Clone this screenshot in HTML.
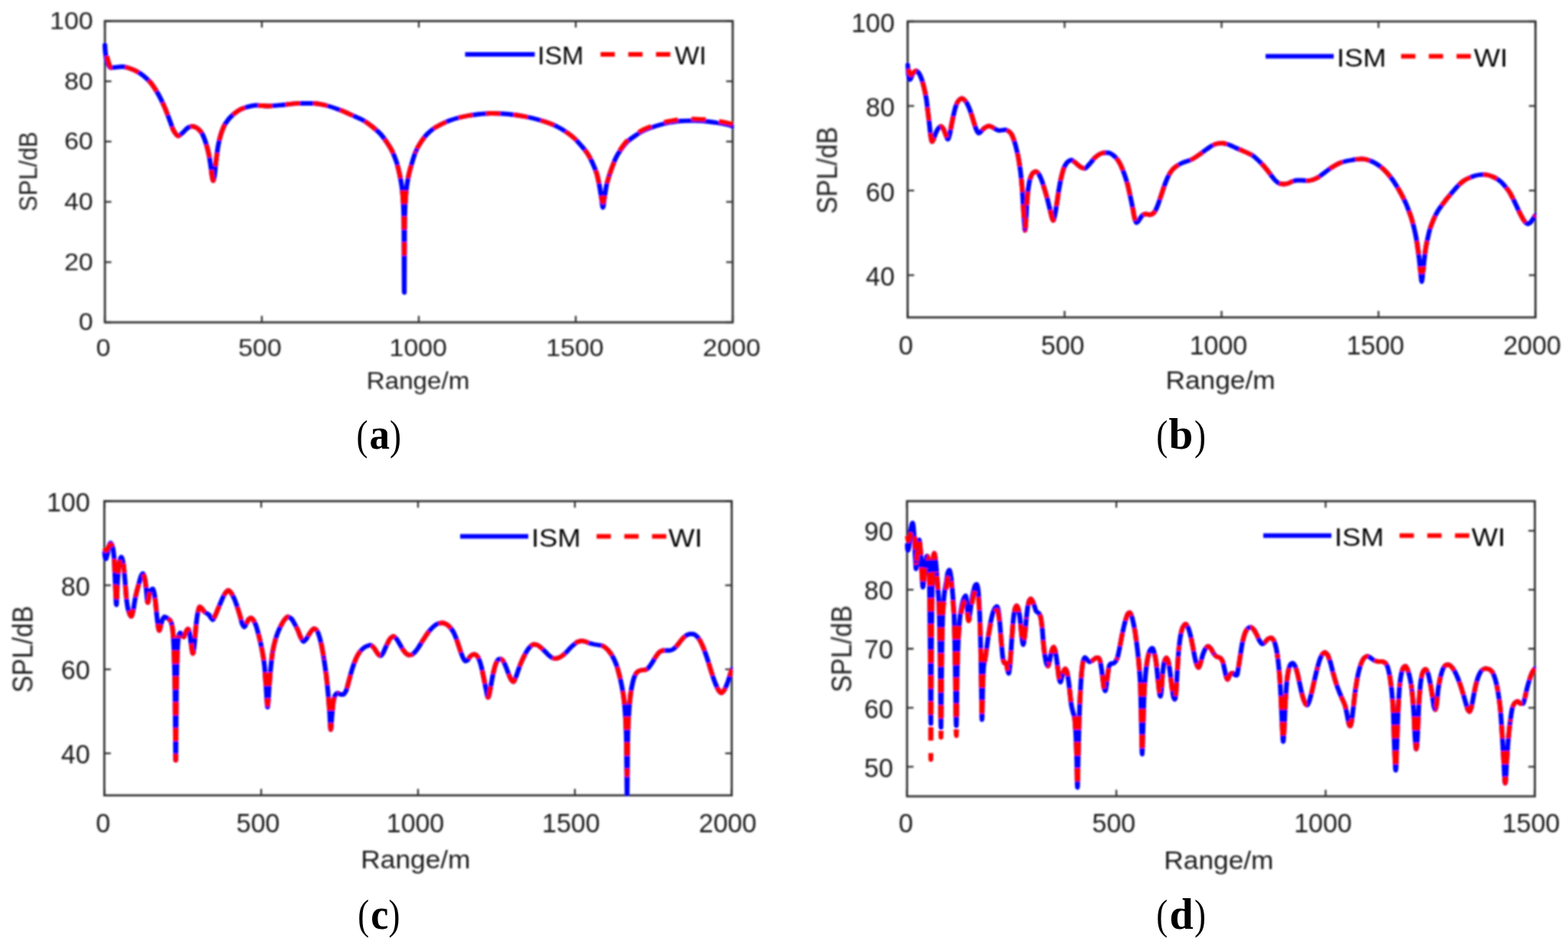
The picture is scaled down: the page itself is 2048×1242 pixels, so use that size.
<!DOCTYPE html>
<html lang="en"><head><meta charset="utf-8"><title>SPL versus range: ISM and WI</title>
<style>html,body{margin:0;padding:0;background:#fff}body{width:2048px;height:1242px;overflow:hidden}svg{display:block}text{font-family:"Liberation Sans",Arial,Helvetica,sans-serif}text.cap{font-family:"Liberation Serif","Times New Roman",Times,serif}</style></head><body>
<svg width="2048" height="1242" viewBox="0 0 2048 1242">
<defs><filter id="bl" x="-5%" y="-5%" width="110%" height="110%" filterUnits="objectBoundingBox"><feGaussianBlur stdDeviation="1.00"/></filter></defs>
<rect width="2048" height="1242" fill="#fff"/>
<g filter="url(#bl)">
<rect x="137.00" y="27.50" width="820.00" height="393.50" fill="none" stroke="#303030" stroke-width="2.70"/>
<path d="M137.00,421.00v-8.50M137.00,27.50v8.50M342.00,421.00v-8.50M342.00,27.50v8.50M547.00,421.00v-8.50M547.00,27.50v8.50M752.00,421.00v-8.50M752.00,27.50v8.50M957.00,421.00v-8.50M957.00,27.50v8.50M137.00,421.00h8.50M957.00,421.00h-8.50M137.00,342.30h8.50M957.00,342.30h-8.50M137.00,263.60h8.50M957.00,263.60h-8.50M137.00,184.90h8.50M957.00,184.90h-8.50M137.00,106.20h8.50M957.00,106.20h-8.50M137.00,27.50h8.50M957.00,27.50h-8.50" stroke="#303030" stroke-width="2.30" fill="none"/>
<text transform="translate(135.00,465.30) scale(1.085,1)" text-anchor="middle" font-size="31.20" fill="#1c1c1c" >0</text>
<text transform="translate(339.50,465.30) scale(1.085,1)" text-anchor="middle" font-size="31.20" fill="#1c1c1c" >500</text>
<text transform="translate(546.20,465.30) scale(1.085,1)" text-anchor="middle" font-size="31.20" fill="#1c1c1c" >1000</text>
<text transform="translate(750.90,465.30) scale(1.085,1)" text-anchor="middle" font-size="31.20" fill="#1c1c1c" >1500</text>
<text transform="translate(955.60,465.30) scale(1.085,1)" text-anchor="middle" font-size="31.20" fill="#1c1c1c" >2000</text>
<text transform="translate(121.60,431.40) scale(1.085,1)" text-anchor="end" font-size="31.20" fill="#1c1c1c" >0</text>
<text transform="translate(121.60,352.70) scale(1.085,1)" text-anchor="end" font-size="31.20" fill="#1c1c1c" >20</text>
<text transform="translate(121.60,274.00) scale(1.085,1)" text-anchor="end" font-size="31.20" fill="#1c1c1c" >40</text>
<text transform="translate(121.60,195.30) scale(1.085,1)" text-anchor="end" font-size="31.20" fill="#1c1c1c" >60</text>
<text transform="translate(121.60,116.60) scale(1.085,1)" text-anchor="end" font-size="31.20" fill="#1c1c1c" >80</text>
<text transform="translate(121.60,37.90) scale(1.085,1)" text-anchor="end" font-size="31.20" fill="#1c1c1c" >100</text>
<text transform="translate(546.00,508.00) scale(1.080,1)" text-anchor="middle" font-size="30.70" fill="#1c1c1c" >Range/m</text>
<text transform="translate(48.50,224.00) rotate(-90) scale(1,1.080)" text-anchor="middle" font-size="30.70" fill="#1c1c1c" >SPL/dB</text>
<clipPath id="ca"><rect x="134.00" y="27.50" width="824.40" height="394.00"/></clipPath>
<g clip-path="url(#ca)" fill="none" stroke-linejoin="round" stroke-linecap="round">
<g transform="scale(1.0750,1)">
<path d="M127.4,59.0C127.6,62.5 127.8,66.1 128.0,68.0C128.4,72.4 128.9,75.0 129.3,77.0C130.1,80.5 130.9,82.9 131.6,84.5C132.6,86.4 133.5,88.5 134.4,88.5C136.1,88.5 137.8,88.2 139.5,88.0C142.6,87.7 145.7,87.0 148.8,87.0C151.9,87.0 155.0,88.4 158.1,89.5C161.2,90.6 164.3,92.1 167.4,94.0C172.1,96.8 176.7,100.8 181.4,106.0C184.5,109.5 187.6,114.5 190.7,120.0C193.8,125.5 196.9,132.4 200.0,140.0C202.2,145.3 204.3,152.0 206.5,158.0C208.1,162.3 209.6,168.3 211.2,171.0C212.9,174.0 214.6,177.5 216.3,177.5C218.6,177.5 220.9,174.0 223.3,172.0C225.1,170.4 227.0,167.3 228.8,166.5C230.5,165.7 232.2,165.0 234.0,165.0C235.7,165.0 237.4,166.0 239.1,167.0C240.9,168.1 242.8,170.2 244.7,173.0C246.2,175.3 247.8,179.5 249.3,184.0C250.5,187.6 251.8,192.2 253.0,198.0C254.0,202.4 254.9,208.5 255.8,215.0C256.4,219.3 257.1,226.6 257.7,230.0C258.1,232.6 258.6,236.0 259.1,236.0C259.5,236.0 260.0,232.7 260.5,230.0C261.1,226.4 261.7,217.4 262.3,212.0C263.3,203.9 264.2,195.2 265.1,190.0C266.4,183.0 267.6,178.0 268.8,174.0C270.4,169.0 271.9,164.8 273.5,162.0C276.6,156.5 279.7,152.8 282.8,150.0C287.0,146.2 291.2,143.0 295.3,141.5C300.8,139.5 306.2,137.5 311.6,137.5C316.3,137.5 320.9,138.5 325.6,138.5C331.8,138.5 338.0,137.6 344.2,137.0C350.4,136.4 356.6,135.0 362.8,135.0C369.0,135.0 375.2,135.0 381.4,135.0C386.0,135.0 390.7,136.4 395.3,137.5C401.6,138.9 407.8,141.5 414.0,144.0C418.6,145.9 423.3,148.3 427.9,150.5C432.6,152.7 437.2,154.7 441.9,157.5C445.6,159.8 449.3,162.8 453.0,166.0C456.1,168.7 459.2,171.4 462.3,175.0C465.1,178.2 467.9,182.5 470.7,187.0C472.6,190.0 474.4,193.0 476.3,197.0C478.1,201.0 480.0,205.8 481.9,212.0C483.1,216.2 484.3,221.7 485.6,228.0C486.5,232.7 487.4,237.2 488.4,245.0C488.8,248.9 489.3,253.7 489.8,262.0C490.1,267.5 490.4,272.4 490.7,290.0C490.9,298.8 491.0,382.0 491.2,382.0C491.3,382.0 491.5,298.8 491.6,290.0C491.9,272.4 492.2,267.5 492.6,262.0C493.0,253.7 493.5,248.9 494.0,245.0C494.9,237.2 495.8,232.6 496.7,228.0C498.0,221.9 499.2,217.5 500.5,213.0C502.0,207.4 503.6,201.8 505.1,198.0C507.1,193.0 509.1,189.3 511.2,186.0C513.8,181.7 516.4,177.9 519.1,175.0C521.9,172.0 524.7,169.5 527.4,167.5C530.5,165.3 533.6,163.7 536.7,162.0C539.8,160.3 542.9,158.7 546.0,157.5C550.1,155.9 554.1,154.6 558.1,153.5C561.9,152.5 565.6,151.7 569.3,151.0C574.0,150.2 578.6,149.4 583.3,149.0C587.9,148.6 592.6,148.0 597.2,148.0C601.9,148.0 606.5,148.2 611.2,148.5C615.8,148.8 620.5,149.4 625.1,150.0C629.8,150.6 634.4,151.5 639.1,152.5C643.7,153.5 648.4,154.7 653.0,156.0C657.1,157.2 661.1,158.5 665.1,160.0C668.8,161.4 672.6,163.1 676.3,165.0C680.0,166.9 683.7,169.3 687.4,172.0C690.7,174.3 694.0,176.9 697.2,180.0C700.2,182.8 703.1,186.4 706.0,190.0C708.5,193.1 711.0,196.0 713.5,200.0C715.7,203.5 717.8,208.0 720.0,213.0C721.7,217.0 723.4,220.9 725.1,227.0C726.2,230.9 727.3,236.9 728.4,243.0C729.1,247.4 729.9,252.8 730.7,258.0C731.3,262.2 731.9,271.0 732.6,271.0C733.2,271.0 733.8,262.2 734.4,258.0C735.2,252.8 736.0,246.9 736.7,243.0C737.8,237.6 738.9,233.8 740.0,230.0C741.4,225.1 742.8,220.9 744.2,217.0C745.7,212.6 747.3,208.2 748.8,205.0C751.0,200.5 753.2,197.2 755.3,194.0C757.7,190.6 760.0,187.4 762.3,185.0C765.6,181.7 768.8,179.3 772.1,177.0C775.8,174.3 779.5,171.8 783.3,170.0C787.9,167.7 792.6,166.0 797.2,164.5C802.6,162.7 808.1,161.0 813.5,160.0C818.3,159.1 823.1,158.2 827.9,158.0C833.2,157.7 838.4,157.5 843.7,157.5C848.4,157.5 853.0,158.1 857.7,158.5C862.3,158.9 867.0,159.7 871.6,160.5C875.0,161.1 878.4,161.7 881.9,162.5C884.7,163.2 887.4,164.0 890.2,165.0" stroke="#0000ff" stroke-width="5.80"/>
<path d="M129.8,73.0C130.2,75.2 130.7,77.3 131.2,79.0C131.8,81.3 132.4,83.7 133.0,85.0C133.8,86.6 134.6,88.5 135.3,88.5C136.7,88.5 138.1,88.2 139.5,88.0C142.6,87.6 145.7,87.0 148.8,87.0C151.9,87.0 155.0,88.4 158.1,89.5C161.2,90.6 164.3,92.1 167.4,94.0C172.1,96.8 176.7,100.8 181.4,106.0C184.5,109.5 187.6,114.5 190.7,120.0C193.8,125.5 196.9,132.4 200.0,140.0C202.2,145.3 204.3,152.0 206.5,158.0C208.1,162.3 209.6,168.3 211.2,171.0C212.9,174.0 214.6,177.5 216.3,177.5C218.6,177.5 220.9,174.0 223.3,172.0C225.1,170.4 227.0,167.3 228.8,166.5C230.5,165.7 232.2,165.0 234.0,165.0C235.7,165.0 237.4,166.0 239.1,167.0C240.9,168.1 242.8,170.2 244.7,173.0C246.2,175.3 247.8,179.5 249.3,184.0C250.5,187.6 251.8,192.2 253.0,198.0C254.0,202.4 254.9,208.5 255.8,215.0C256.4,219.3 257.1,226.6 257.7,230.0C258.1,232.6 258.6,236.0 259.1,236.0C259.5,236.0 260.0,232.7 260.5,230.0C261.1,226.4 261.7,217.4 262.3,212.0C263.3,203.9 264.2,195.2 265.1,190.0C266.4,183.0 267.6,178.0 268.8,174.0" stroke="#ff0000" stroke-width="5.80" stroke-dasharray="17.40 16.28" stroke-dashoffset="0.00" stroke-linecap="butt"/>
<path d="M268.8,174.0C270.4,169.0 271.9,164.8 273.5,162.0C276.6,156.5 279.7,152.8 282.8,150.0C287.0,146.2 291.2,143.0 295.3,141.5C300.8,139.5 306.2,137.5 311.6,137.5C316.3,137.5 320.9,138.5 325.6,138.5C331.8,138.5 338.0,137.6 344.2,137.0C350.4,136.4 356.6,135.0 362.8,135.0C369.0,135.0 375.2,135.0 381.4,135.0C386.0,135.0 390.7,136.4 395.3,137.5C401.6,138.9 407.8,141.5 414.0,144.0C418.6,145.9 423.3,148.3 427.9,150.5C432.6,152.7 437.2,154.7 441.9,157.5C445.6,159.8 449.3,162.8 453.0,166.0C456.1,168.7 459.2,171.4 462.3,175.0C465.1,178.2 467.9,182.5 470.7,187.0" stroke="#ff0000" stroke-width="5.80" stroke-dasharray="17.40 16.28" stroke-dashoffset="5.29" stroke-linecap="butt"/>
<path d="M470.7,187.0C472.6,190.0 474.4,193.0 476.3,197.0C478.1,201.0 480.0,205.8 481.9,212.0C483.1,216.2 484.3,221.7 485.6,228.0C486.5,232.7 487.4,237.2 488.4,245.0C488.8,248.9 489.3,253.7 489.8,262.0C490.1,267.5 490.4,274.3 490.7,290.0C490.9,297.8 491.0,341.8 491.2,341.8C491.3,341.8 491.5,297.8 491.6,290.0C491.9,274.3 492.2,267.5 492.6,262.0C493.0,253.7 493.5,248.9 494.0,245.0C494.9,237.2 495.8,232.6 496.7,228.0C498.0,221.9 499.2,217.5 500.5,213.0C502.0,207.4 503.6,201.8 505.1,198.0" stroke="#ff0000" stroke-width="5.80" stroke-dasharray="17.40 16.28" stroke-dashoffset="2.26" stroke-linecap="butt"/>
<path d="M505.1,198.0C507.1,193.0 509.1,189.3 511.2,186.0C513.8,181.7 516.4,177.9 519.1,175.0C521.9,172.0 524.7,169.5 527.4,167.5C530.5,165.3 533.6,163.7 536.7,162.0C539.8,160.3 542.9,158.7 546.0,157.5C550.1,155.9 554.1,154.6 558.1,153.5C561.9,152.5 565.6,151.7 569.3,151.0C574.0,150.2 578.6,149.4 583.3,149.0C587.9,148.6 592.6,148.0 597.2,148.0C601.9,148.0 606.5,148.2 611.2,148.5C615.8,148.8 620.5,149.4 625.1,150.0C629.8,150.6 634.4,151.5 639.1,152.5C643.7,153.5 648.4,154.7 653.0,156.0C657.1,157.2 661.1,158.5 665.1,160.0C668.8,161.4 672.6,163.1 676.3,165.0C680.0,166.9 683.7,169.3 687.4,172.0C690.7,174.3 694.0,176.9 697.2,180.0C700.2,182.8 703.1,186.4 706.0,190.0C708.5,193.1 711.0,196.0 713.5,200.0" stroke="#ff0000" stroke-width="5.80" stroke-dasharray="17.40 16.28" stroke-dashoffset="29.82" stroke-linecap="butt"/>
<path d="M713.5,200.0C715.7,203.5 717.8,208.0 720.0,213.0C721.7,217.0 723.4,220.9 725.1,227.0C726.2,230.9 727.3,236.9 728.4,243.0C729.1,247.4 729.9,254.7 730.7,258.0C731.3,260.6 731.9,264.0 732.6,264.0C733.2,264.0 733.8,260.6 734.4,258.0C735.2,254.7 736.0,246.9 736.7,243.0C737.8,237.6 738.9,233.8 740.0,230.0" stroke="#ff0000" stroke-width="5.80" stroke-dasharray="17.40 16.28" stroke-dashoffset="8.68" stroke-linecap="butt"/>
<path d="M740.0,230.0C741.4,225.1 742.8,220.9 744.2,217.0C745.7,212.6 747.3,208.4 748.8,205.0C751.0,200.2 753.2,196.2 755.3,192.8C757.7,189.2 760.0,186.0 762.3,183.6C765.6,180.2 768.8,177.9 772.1,175.5C775.8,172.8 779.5,170.2 783.3,168.4C787.9,166.1 792.6,164.3 797.2,162.8C802.6,161.0 808.1,159.3 813.5,158.2C818.3,157.3 823.1,156.3 827.9,156.0C833.2,155.6 838.4,155.3 843.7,155.3C848.4,155.3 853.0,155.8 857.7,156.2C862.3,156.6 867.0,157.3 871.6,158.0C875.0,158.5 878.4,159.2 881.9,160.0C884.7,160.6 887.4,161.4 890.2,162.3" stroke="#ff0000" stroke-width="5.80" stroke-dasharray="17.40 16.28" stroke-dashoffset="31.83" stroke-linecap="butt"/>
</g>
</g>
<path d="M607.50,71.00H698.50" stroke="#0000ff" stroke-width="5.80" fill="none"/>
<path d="M784.40,71.00H875.60" stroke="#ff0000" stroke-width="5.80" stroke-dasharray="18.7 17.5" fill="none"/>
<text transform="translate(702.00,84.40) scale(1.030,1)" text-anchor="start" font-size="33.00" fill="#000" >ISM</text>
<text transform="translate(881.30,84.40) scale(1.030,1)" text-anchor="start" font-size="33.00" fill="#000" >WI</text>
</g>
<g filter="url(#bl)">
<rect x="1185.50" y="28.00" width="820.00" height="386.50" fill="none" stroke="#303030" stroke-width="2.70"/>
<path d="M1185.50,414.50v-8.50M1185.50,28.00v8.50M1390.50,414.50v-8.50M1390.50,28.00v8.50M1595.50,414.50v-8.50M1595.50,28.00v8.50M1800.50,414.50v-8.50M1800.50,28.00v8.50M2005.50,414.50v-8.50M2005.50,28.00v8.50M1185.50,359.29h8.50M2005.50,359.29h-8.50M1185.50,248.86h8.50M2005.50,248.86h-8.50M1185.50,138.43h8.50M2005.50,138.43h-8.50M1185.50,28.00h8.50M2005.50,28.00h-8.50" stroke="#303030" stroke-width="2.30" fill="none"/>
<text transform="translate(1183.10,463.20) scale(0.975,1)" text-anchor="middle" font-size="34.80" fill="#1c1c1c" >0</text>
<text transform="translate(1388.10,463.20) scale(0.975,1)" text-anchor="middle" font-size="34.80" fill="#1c1c1c" >500</text>
<text transform="translate(1591.40,463.20) scale(0.975,1)" text-anchor="middle" font-size="34.80" fill="#1c1c1c" >1000</text>
<text transform="translate(1796.40,463.20) scale(0.975,1)" text-anchor="middle" font-size="34.80" fill="#1c1c1c" >1500</text>
<text transform="translate(2001.20,463.20) scale(0.975,1)" text-anchor="middle" font-size="34.80" fill="#1c1c1c" >2000</text>
<text transform="translate(1168.50,373.09) scale(0.975,1)" text-anchor="end" font-size="34.80" fill="#1c1c1c" >40</text>
<text transform="translate(1168.50,262.66) scale(0.975,1)" text-anchor="end" font-size="34.80" fill="#1c1c1c" >60</text>
<text transform="translate(1168.50,152.23) scale(0.975,1)" text-anchor="end" font-size="34.80" fill="#1c1c1c" >80</text>
<text transform="translate(1168.50,41.80) scale(0.975,1)" text-anchor="end" font-size="34.80" fill="#1c1c1c" >100</text>
<text transform="translate(1594.10,507.50) scale(1.045,1)" text-anchor="middle" font-size="33.80" fill="#1c1c1c" >Range/m</text>
<text transform="translate(1093.30,222.50) rotate(-90) scale(1,1.130)" text-anchor="middle" font-size="33.50" fill="#1c1c1c" >SPL/dB</text>
<clipPath id="cb"><rect x="1182.50" y="28.00" width="824.40" height="387.00"/></clipPath>
<g clip-path="url(#cb)" fill="none" stroke-linejoin="round" stroke-linecap="round">
<g transform="scale(1.0750,1)">
<path d="M1102.8,85.0C1103.1,89.9 1103.4,95.1 1103.7,97.0C1104.3,100.8 1105.0,104.0 1105.6,104.0C1106.7,104.0 1107.8,98.6 1108.8,97.0C1110.2,95.0 1111.6,92.5 1113.0,92.5C1114.3,92.5 1115.5,94.3 1116.7,96.0C1117.8,97.5 1118.9,100.7 1120.0,104.0C1120.9,106.8 1121.9,110.8 1122.8,115.0C1123.7,119.2 1124.7,123.8 1125.6,130.0C1126.2,134.2 1126.8,140.5 1127.4,146.0C1128.1,151.5 1128.7,157.1 1129.3,163.0C1129.8,167.5 1130.2,174.1 1130.7,177.0C1131.3,180.8 1131.9,185.0 1132.6,185.0C1133.3,185.0 1134.1,181.9 1134.9,180.0C1135.8,177.7 1136.7,174.1 1137.7,172.0C1138.6,169.9 1139.5,168.0 1140.5,167.0C1141.4,166.0 1142.3,165.0 1143.3,165.0C1144.2,165.0 1145.1,166.6 1146.0,168.0C1147.0,169.4 1147.9,172.7 1148.8,175.0C1149.8,177.3 1150.7,182.0 1151.6,182.0C1152.4,182.0 1153.2,178.0 1154.0,175.0C1154.7,172.0 1155.5,166.2 1156.3,162.0C1157.1,157.8 1157.8,153.6 1158.6,150.0C1159.4,146.4 1160.2,142.5 1160.9,140.0C1162.0,136.6 1163.1,133.3 1164.2,132.0C1165.7,130.2 1167.3,128.5 1168.8,128.5C1170.2,128.5 1171.6,130.4 1173.0,132.0C1174.3,133.4 1175.5,136.1 1176.7,139.0C1178.0,141.9 1179.2,146.0 1180.5,150.0C1181.7,154.0 1182.9,159.1 1184.2,163.0C1185.1,165.9 1186.0,169.4 1187.0,171.0C1187.8,172.4 1188.5,174.0 1189.3,174.0C1190.4,174.0 1191.5,172.1 1192.6,171.0C1193.8,169.8 1195.0,167.9 1196.3,167.0C1198.0,165.8 1199.7,164.5 1201.4,164.5C1202.8,164.5 1204.2,165.3 1205.6,166.0C1206.8,166.6 1208.1,167.8 1209.3,168.5C1210.9,169.3 1212.4,170.5 1214.0,170.5C1215.2,170.5 1216.4,170.2 1217.7,170.0C1218.9,169.8 1220.2,169.5 1221.4,169.5C1222.6,169.5 1223.9,170.3 1225.1,171.0C1226.4,171.7 1227.6,173.1 1228.8,175.0C1230.1,176.9 1231.3,181.0 1232.6,185.0C1233.5,188.0 1234.4,191.8 1235.3,196.0C1236.1,199.5 1236.9,203.3 1237.7,208.0C1238.4,212.7 1239.2,218.2 1240.0,225.0C1240.6,230.4 1241.2,236.6 1241.9,245.0C1242.3,251.3 1242.8,262.2 1243.3,270.0C1243.7,277.8 1244.2,285.7 1244.7,292.0C1244.9,295.4 1245.1,301.0 1245.4,301.0C1245.8,301.0 1246.1,293.3 1246.5,288.0C1247.0,281.4 1247.4,268.2 1247.9,262.0C1248.5,253.7 1249.1,247.1 1249.8,243.0C1250.5,237.9 1251.3,234.2 1252.1,232.0C1253.2,228.9 1254.3,226.3 1255.3,225.5C1256.4,224.7 1257.5,224.0 1258.6,224.0C1259.7,224.0 1260.8,225.6 1261.9,227.0C1262.9,228.4 1264.0,231.2 1265.1,234.0C1266.4,237.2 1267.6,241.7 1268.8,246.0C1270.1,250.3 1271.3,255.0 1272.6,260.0C1273.6,264.4 1274.7,269.3 1275.8,274.0C1276.6,277.3 1277.4,281.4 1278.1,284.0C1278.6,285.6 1279.1,288.0 1279.5,288.0C1280.2,288.0 1280.8,284.6 1281.4,282.0C1282.2,278.8 1282.9,273.1 1283.7,268.0C1284.7,261.9 1285.6,253.8 1286.5,248.0C1287.6,241.2 1288.7,234.7 1289.8,230.0C1290.9,225.3 1291.9,221.0 1293.0,218.5C1294.4,215.3 1295.8,212.7 1297.2,211.5C1298.6,210.3 1300.0,209.0 1301.4,209.0C1302.8,209.0 1304.2,210.5 1305.6,211.5C1307.0,212.5 1308.4,214.3 1309.8,215.5C1311.3,216.8 1312.9,218.4 1314.4,219.0C1315.7,219.5 1316.9,220.0 1318.1,220.0C1319.4,220.0 1320.6,217.8 1321.9,216.5C1323.1,215.2 1324.3,213.5 1325.6,212.0C1327.1,210.1 1328.7,207.5 1330.2,206.0C1332.1,204.1 1334.0,202.4 1335.8,201.5C1337.7,200.6 1339.5,199.5 1341.4,199.5C1343.1,199.5 1344.8,199.5 1346.5,199.5C1348.2,199.5 1349.9,200.9 1351.6,202.0C1353.2,203.0 1354.7,204.6 1356.3,206.5C1357.8,208.4 1359.4,210.9 1360.9,214.0C1362.5,217.1 1364.0,221.5 1365.6,226.0C1367.0,230.1 1368.4,234.6 1369.8,240.0C1370.9,244.2 1371.9,249.7 1373.0,255.0C1374.1,260.3 1375.2,266.1 1376.3,272.0C1377.1,276.2 1377.8,282.3 1378.6,285.0C1379.4,287.7 1380.2,291.0 1380.9,291.0C1381.7,291.0 1382.5,289.5 1383.3,288.5C1384.2,287.3 1385.1,285.3 1386.0,284.0C1387.0,282.7 1387.9,280.9 1388.8,280.5C1390.1,279.9 1391.3,279.5 1392.6,279.5C1394.0,279.5 1395.3,280.5 1396.7,280.5C1397.8,280.5 1398.9,280.0 1400.0,279.5C1401.1,279.0 1402.2,277.6 1403.3,276.0C1404.3,274.4 1405.4,271.4 1406.5,268.5C1407.8,265.2 1409.0,260.9 1410.2,257.0C1411.8,252.1 1413.3,246.4 1414.9,242.0C1416.4,237.6 1418.0,233.2 1419.5,230.0C1421.1,226.8 1422.6,223.9 1424.2,222.0C1425.7,220.1 1427.3,218.7 1428.8,217.5C1431.2,215.7 1433.5,214.1 1435.8,213.0C1437.5,212.2 1439.2,211.7 1440.9,211.0C1443.1,210.2 1445.3,209.5 1447.4,208.5C1449.3,207.6 1451.2,206.3 1453.0,205.0C1455.0,203.6 1457.1,202.0 1459.1,200.5C1461.4,198.7 1463.7,196.7 1466.0,195.0C1468.4,193.3 1470.7,191.2 1473.0,190.0C1475.0,188.9 1477.1,187.8 1479.1,187.5C1480.9,187.2 1482.8,187.0 1484.7,187.0C1486.5,187.0 1488.4,187.5 1490.2,188.0C1492.2,188.5 1494.3,189.6 1496.3,190.5C1498.3,191.4 1500.3,192.6 1502.3,193.5C1504.2,194.4 1506.0,195.2 1507.9,196.0C1510.1,197.0 1512.2,197.9 1514.4,199.0C1516.9,200.2 1519.4,201.3 1521.9,203.0C1523.7,204.3 1525.6,206.2 1527.4,208.0C1529.5,210.0 1531.5,212.2 1533.5,214.5C1535.5,216.8 1537.5,219.3 1539.5,222.0C1541.4,224.5 1543.3,227.5 1545.1,230.0C1546.7,232.1 1548.2,234.5 1549.8,236.0C1551.3,237.5 1552.9,239.0 1554.4,239.5C1556.3,240.0 1558.1,240.5 1560.0,240.5C1561.6,240.5 1563.1,239.9 1564.7,239.5C1566.5,239.0 1568.4,237.6 1570.2,237.0C1572.1,236.4 1574.0,235.5 1575.8,235.5C1577.7,235.5 1579.5,235.5 1581.4,235.5C1583.9,235.5 1586.4,236.0 1588.8,236.0C1590.7,236.0 1592.6,235.5 1594.4,235.0C1596.6,234.4 1598.8,233.2 1600.9,232.0C1603.1,230.8 1605.3,228.7 1607.4,227.0C1609.9,225.0 1612.4,222.8 1614.9,221.0C1617.1,219.4 1619.2,217.8 1621.4,216.5C1623.9,215.0 1626.4,213.5 1628.8,212.5C1631.0,211.7 1633.2,211.0 1635.3,210.5C1637.8,209.9 1640.3,209.5 1642.8,209.0C1644.7,208.6 1646.5,208.2 1648.4,208.0C1650.4,207.8 1652.4,207.5 1654.4,207.5C1656.4,207.5 1658.4,208.0 1660.5,208.5C1662.3,208.9 1664.2,209.7 1666.0,210.5C1667.9,211.3 1669.8,212.3 1671.6,213.5C1673.6,214.8 1675.7,216.3 1677.7,218.0C1679.7,219.7 1681.7,221.8 1683.7,224.0C1685.6,226.1 1687.4,228.4 1689.3,231.0C1690.9,233.1 1692.4,235.5 1694.0,238.0C1695.5,240.5 1697.1,243.2 1698.6,246.0C1700.2,248.8 1701.7,251.8 1703.3,255.0C1704.8,258.2 1706.4,261.3 1707.9,265.0C1709.1,268.0 1710.4,271.4 1711.6,275.0C1712.7,278.1 1713.8,281.2 1714.9,285.0C1715.8,288.2 1716.7,292.0 1717.7,296.0C1718.4,299.3 1719.2,302.8 1720.0,307.0C1720.8,311.2 1721.6,316.4 1722.3,322.0C1722.9,326.5 1723.6,331.5 1724.2,337.0C1724.8,342.5 1725.4,349.1 1726.0,355.0C1726.5,359.4 1727.0,368.0 1727.4,368.0C1727.9,368.0 1728.4,359.4 1728.8,355.0C1729.5,349.1 1730.1,342.5 1730.7,337.0C1731.3,331.5 1731.9,325.9 1732.6,322.0C1733.3,317.1 1734.1,313.6 1734.9,310.0C1735.8,305.6 1736.7,301.2 1737.7,298.0C1738.6,294.8 1739.5,292.5 1740.5,290.0C1741.7,286.7 1742.9,283.6 1744.2,281.0C1745.4,278.4 1746.7,276.1 1747.9,274.0C1749.5,271.4 1751.0,269.2 1752.6,267.0C1754.1,264.8 1755.7,262.6 1757.2,260.5C1758.8,258.4 1760.3,256.5 1761.9,254.5C1763.7,252.1 1765.6,249.7 1767.4,247.5C1769.3,245.3 1771.2,242.9 1773.0,241.0C1774.9,239.1 1776.7,237.3 1778.6,236.0C1780.6,234.6 1782.6,233.5 1784.7,232.5C1786.7,231.5 1788.7,230.7 1790.7,230.0C1792.6,229.4 1794.4,228.8 1796.3,228.5C1798.1,228.2 1800.0,228.0 1801.9,228.0C1803.7,228.0 1805.6,228.2 1807.4,228.5C1809.3,228.8 1811.2,229.7 1813.0,230.5C1814.9,231.3 1816.7,232.3 1818.6,233.5C1820.5,234.7 1822.3,236.2 1824.2,238.0C1825.7,239.5 1827.3,241.5 1828.8,243.5C1830.4,245.5 1831.9,247.5 1833.5,250.0C1835.0,252.5 1836.6,255.8 1838.1,259.0C1839.7,262.2 1841.2,266.0 1842.8,269.5C1844.0,272.3 1845.3,275.3 1846.5,278.0C1847.8,280.7 1849.0,283.3 1850.2,285.5C1851.3,287.4 1852.4,289.4 1853.5,290.5C1854.4,291.4 1855.3,292.5 1856.3,292.5C1857.2,292.5 1858.1,291.7 1859.1,291.0C1860.0,290.3 1860.9,288.5 1861.9,287.0C1862.6,285.8 1863.4,284.2 1864.2,283.0C1864.7,282.3 1865.1,281.6 1865.6,281.0" stroke="#0000ff" stroke-width="5.80"/>
<path d="M1103.7,90.0C1104.2,92.7 1104.7,95.3 1105.1,96.0C1105.7,96.9 1106.4,97.5 1107.0,97.5C1107.8,97.5 1108.5,95.7 1109.3,95.0C1110.5,94.0 1111.8,92.5 1113.0,92.5C1114.3,92.5 1115.5,94.3 1116.7,96.0C1117.8,97.5 1118.9,100.7 1120.0,104.0C1120.9,106.8 1121.9,110.8 1122.8,115.0C1123.7,119.2 1124.7,123.8 1125.6,130.0C1126.2,134.2 1126.8,140.5 1127.4,146.0C1128.1,151.5 1128.7,157.1 1129.3,163.0C1129.8,167.5 1130.2,174.1 1130.7,177.0C1131.3,180.8 1131.9,185.0 1132.6,185.0C1133.3,185.0 1134.1,181.9 1134.9,180.0C1135.8,177.7 1136.7,174.1 1137.7,172.0C1138.6,169.9 1139.5,168.0 1140.5,167.0C1141.4,166.0 1142.3,165.0 1143.3,165.0C1144.2,165.0 1145.1,166.6 1146.0,168.0C1147.0,169.4 1147.9,172.7 1148.8,175.0C1149.8,177.3 1150.7,182.0 1151.6,182.0C1152.4,182.0 1153.2,178.0 1154.0,175.0C1154.7,172.0 1155.5,166.2 1156.3,162.0C1157.1,157.8 1157.8,153.6 1158.6,150.0C1159.4,146.4 1160.2,142.5 1160.9,140.0C1162.0,136.6 1163.1,133.3 1164.2,132.0C1165.7,130.2 1167.3,128.5 1168.8,128.5C1170.2,128.5 1171.6,130.4 1173.0,132.0C1174.3,133.4 1175.5,136.1 1176.7,139.0C1178.0,141.9 1179.2,146.0 1180.5,150.0C1181.7,154.0 1182.9,159.1 1184.2,163.0C1185.1,165.9 1186.0,169.4 1187.0,171.0C1187.8,172.4 1188.5,174.0 1189.3,174.0C1190.4,174.0 1191.5,172.1 1192.6,171.0C1193.8,169.8 1195.0,167.9 1196.3,167.0C1198.0,165.8 1199.7,164.5 1201.4,164.5C1202.8,164.5 1204.2,165.3 1205.6,166.0C1206.8,166.6 1208.1,167.8 1209.3,168.5C1210.9,169.3 1212.4,170.5 1214.0,170.5C1215.2,170.5 1216.4,170.2 1217.7,170.0C1218.9,169.8 1220.2,169.5 1221.4,169.5C1222.6,169.5 1223.9,170.3 1225.1,171.0C1226.4,171.7 1227.6,173.1 1228.8,175.0C1230.1,176.9 1231.3,181.0 1232.6,185.0C1233.5,188.0 1234.4,191.8 1235.3,196.0C1236.1,199.5 1236.9,203.3 1237.7,208.0C1238.4,212.7 1239.2,218.2 1240.0,225.0C1240.6,230.4 1241.2,236.6 1241.9,245.0C1242.3,251.3 1242.8,262.2 1243.3,270.0C1243.7,277.8 1244.2,285.7 1244.7,292.0C1244.9,295.4 1245.1,301.0 1245.4,301.0C1245.8,301.0 1246.1,293.3 1246.5,288.0C1247.0,281.4 1247.4,268.2 1247.9,262.0C1248.5,253.7 1249.1,247.1 1249.8,243.0C1250.5,237.9 1251.3,234.2 1252.1,232.0C1253.2,228.9 1254.3,226.3 1255.3,225.5C1256.4,224.7 1257.5,224.0 1258.6,224.0C1259.7,224.0 1260.8,225.6 1261.9,227.0C1262.9,228.4 1264.0,231.2 1265.1,234.0C1266.4,237.2 1267.6,241.7 1268.8,246.0C1270.1,250.3 1271.3,255.0 1272.6,260.0C1273.6,264.4 1274.7,269.3 1275.8,274.0C1276.6,277.3 1277.4,281.4 1278.1,284.0C1278.6,285.6 1279.1,288.0 1279.5,288.0C1280.2,288.0 1280.8,284.6 1281.4,282.0C1282.2,278.8 1282.9,273.1 1283.7,268.0C1284.7,261.9 1285.6,253.8 1286.5,248.0C1287.6,241.2 1288.7,234.7 1289.8,230.0C1290.9,225.3 1291.9,221.0 1293.0,218.5C1294.4,215.3 1295.8,212.7 1297.2,211.5C1298.6,210.3 1300.0,209.0 1301.4,209.0C1302.8,209.0 1304.2,210.5 1305.6,211.5C1307.0,212.5 1308.4,214.3 1309.8,215.5C1311.3,216.8 1312.9,218.4 1314.4,219.0C1315.7,219.5 1316.9,220.0 1318.1,220.0C1319.4,220.0 1320.6,217.8 1321.9,216.5C1323.1,215.2 1324.3,213.5 1325.6,212.0C1327.1,210.1 1328.7,207.5 1330.2,206.0C1332.1,204.1 1334.0,202.4 1335.8,201.5C1337.7,200.6 1339.5,199.5 1341.4,199.5C1343.1,199.5 1344.8,199.5 1346.5,199.5C1348.2,199.5 1349.9,200.9 1351.6,202.0C1353.2,203.0 1354.7,204.6 1356.3,206.5C1357.8,208.4 1359.4,210.9 1360.9,214.0C1362.5,217.1 1364.0,221.5 1365.6,226.0C1367.0,230.1 1368.4,234.6 1369.8,240.0C1370.9,244.2 1371.9,249.7 1373.0,255.0C1374.1,260.3 1375.2,266.1 1376.3,272.0C1377.1,276.2 1377.8,282.3 1378.6,285.0C1379.4,287.7 1380.2,291.0 1380.9,291.0C1381.7,291.0 1382.5,289.5 1383.3,288.5C1384.2,287.3 1385.1,285.3 1386.0,284.0C1387.0,282.7 1387.9,280.9 1388.8,280.5C1390.1,279.9 1391.3,279.5 1392.6,279.5C1394.0,279.5 1395.3,280.5 1396.7,280.5C1397.8,280.5 1398.9,280.0 1400.0,279.5C1401.1,279.0 1402.2,277.6 1403.3,276.0C1404.3,274.4 1405.4,271.4 1406.5,268.5C1407.8,265.2 1409.0,260.9 1410.2,257.0C1411.8,252.1 1413.3,246.4 1414.9,242.0C1416.4,237.6 1418.0,233.2 1419.5,230.0C1421.1,226.8 1422.6,223.9 1424.2,222.0C1425.7,220.1 1427.3,218.7 1428.8,217.5C1431.2,215.7 1433.5,214.1 1435.8,213.0C1437.5,212.2 1439.2,211.7 1440.9,211.0C1443.1,210.2 1445.3,209.5 1447.4,208.5C1449.3,207.6 1451.2,206.3 1453.0,205.0C1455.0,203.6 1457.1,202.0 1459.1,200.5C1461.4,198.7 1463.7,196.7 1466.0,195.0C1468.4,193.3 1470.7,191.2 1473.0,190.0C1475.0,188.9 1477.1,187.8 1479.1,187.5C1480.9,187.2 1482.8,187.0 1484.7,187.0C1486.5,187.0 1488.4,187.5 1490.2,188.0C1492.2,188.5 1494.3,189.6 1496.3,190.5C1498.3,191.4 1500.3,192.6 1502.3,193.5C1504.2,194.4 1506.0,195.2 1507.9,196.0C1510.1,197.0 1512.2,197.9 1514.4,199.0C1516.9,200.2 1519.4,201.3 1521.9,203.0C1523.7,204.3 1525.6,206.2 1527.4,208.0C1529.5,210.0 1531.5,212.2 1533.5,214.5C1535.5,216.8 1537.5,219.3 1539.5,222.0C1541.4,224.5 1543.3,227.5 1545.1,230.0C1546.7,232.1 1548.2,234.5 1549.8,236.0C1551.3,237.5 1552.9,239.0 1554.4,239.5C1556.3,240.0 1558.1,240.5 1560.0,240.5C1561.6,240.5 1563.1,239.9 1564.7,239.5C1566.5,239.0 1568.4,237.6 1570.2,237.0C1572.1,236.4 1574.0,235.5 1575.8,235.5C1577.7,235.5 1579.5,235.5 1581.4,235.5C1583.9,235.5 1586.4,236.0 1588.8,236.0C1590.7,236.0 1592.6,235.5 1594.4,235.0C1596.6,234.4 1598.8,233.2 1600.9,232.0C1603.1,230.8 1605.3,228.7 1607.4,227.0C1609.9,225.0 1612.4,222.8 1614.9,221.0C1617.1,219.4 1619.2,217.8 1621.4,216.5C1623.9,215.0 1626.4,213.5 1628.8,212.5C1631.0,211.7 1633.2,211.0 1635.3,210.5C1637.8,209.9 1640.3,209.5 1642.8,209.0C1644.7,208.6 1646.5,208.2 1648.4,208.0C1650.4,207.8 1652.4,207.5 1654.4,207.5C1656.4,207.5 1658.4,208.0 1660.5,208.5C1662.3,208.9 1664.2,209.7 1666.0,210.5C1667.9,211.3 1669.8,212.3 1671.6,213.5C1673.6,214.8 1675.7,216.3 1677.7,218.0C1679.7,219.7 1681.7,221.8 1683.7,224.0C1685.6,226.1 1687.4,228.4 1689.3,231.0C1690.9,233.1 1692.4,235.5 1694.0,238.0C1695.5,240.5 1697.1,243.2 1698.6,246.0C1700.2,248.8 1701.7,251.8 1703.3,255.0C1704.8,258.2 1706.4,261.3 1707.9,265.0C1709.1,268.0 1710.4,271.4 1711.6,275.0C1712.7,278.1 1713.8,281.2 1714.9,285.0C1715.8,288.2 1716.7,292.0 1717.7,296.0C1718.4,299.3 1719.2,302.8 1720.0,307.0" stroke="#ff0000" stroke-width="5.80" stroke-dasharray="17.40 16.28" stroke-dashoffset="0.00" stroke-linecap="butt"/>
<path d="M1720.0,307.0C1720.8,311.2 1721.6,316.4 1722.3,322.0C1722.9,326.5 1723.6,331.5 1724.2,337.0C1724.8,342.5 1725.4,355.0 1726.0,355.0C1726.5,355.0 1727.0,354.0 1727.4,354.0C1727.9,354.0 1728.4,355.0 1728.8,355.0C1729.5,355.0 1730.1,342.5 1730.7,337.0C1731.3,331.5 1731.9,325.9 1732.6,322.0C1733.3,317.1 1734.1,313.6 1734.9,310.0C1735.8,305.6 1736.7,301.2 1737.7,298.0" stroke="#ff0000" stroke-width="5.80" stroke-dasharray="17.40 16.28" stroke-dashoffset="25.84" stroke-linecap="butt"/>
<path d="M1737.7,298.0C1738.6,294.8 1739.5,292.5 1740.5,290.0C1741.7,286.7 1742.9,283.6 1744.2,281.0C1745.4,278.4 1746.7,276.1 1747.9,274.0C1749.5,271.4 1751.0,269.2 1752.6,267.0C1754.1,264.8 1755.7,262.6 1757.2,260.5C1758.8,258.4 1760.3,256.5 1761.9,254.5C1763.7,252.1 1765.6,249.7 1767.4,247.5C1769.3,245.3 1771.2,242.9 1773.0,241.0C1774.9,239.1 1776.7,237.3 1778.6,236.0C1780.6,234.6 1782.6,233.5 1784.7,232.5C1786.7,231.5 1788.7,230.7 1790.7,230.0C1792.6,229.4 1794.4,228.8 1796.3,228.5C1798.1,228.2 1800.0,228.0 1801.9,228.0C1803.7,228.0 1805.6,228.2 1807.4,228.5C1809.3,228.8 1811.2,229.7 1813.0,230.5C1814.9,231.3 1816.7,232.3 1818.6,233.5C1820.5,234.7 1822.3,236.2 1824.2,238.0C1825.7,239.5 1827.3,241.5 1828.8,243.5C1830.4,245.5 1831.9,247.5 1833.5,250.0C1835.0,252.5 1836.6,255.8 1838.1,259.0C1839.7,262.2 1841.2,266.0 1842.8,269.5C1844.0,272.3 1845.3,275.3 1846.5,278.0C1847.8,280.7 1849.0,283.3 1850.2,285.5C1851.3,287.4 1852.4,289.4 1853.5,290.5C1854.4,291.4 1855.3,292.5 1856.3,292.5C1857.2,292.5 1858.1,291.7 1859.1,291.0C1860.0,290.3 1860.9,288.5 1861.9,287.0C1862.6,285.8 1863.4,284.2 1864.2,283.0C1864.7,282.3 1865.1,281.6 1865.6,281.0" stroke="#ff0000" stroke-width="5.80" stroke-dasharray="17.40 16.28" stroke-dashoffset="0.54" stroke-linecap="butt"/>
</g>
</g>
<path d="M1653.00,73.50H1742.00" stroke="#0000ff" stroke-width="5.80" fill="none"/>
<path d="M1830.00,73.50H1921.20" stroke="#ff0000" stroke-width="5.80" stroke-dasharray="18.7 17.5" fill="none"/>
<text transform="translate(1746.00,87.00) scale(1.070,1)" text-anchor="start" font-size="34.00" fill="#000" >ISM</text>
<text transform="translate(1925.00,87.00) scale(1.070,1)" text-anchor="start" font-size="34.00" fill="#000" >WI</text>
</g>
<g filter="url(#bl)">
<rect x="136.25" y="654.50" width="819.50" height="384.25" fill="none" stroke="#303030" stroke-width="2.70"/>
<path d="M136.25,1038.75v-8.50M136.25,654.50v8.50M341.12,1038.75v-8.50M341.12,654.50v8.50M546.00,1038.75v-8.50M546.00,654.50v8.50M750.88,1038.75v-8.50M750.88,654.50v8.50M955.75,1038.75v-8.50M955.75,654.50v8.50M136.25,983.86h8.50M955.75,983.86h-8.50M136.25,874.07h8.50M955.75,874.07h-8.50M136.25,764.29h8.50M955.75,764.29h-8.50M136.25,654.50h8.50M955.75,654.50h-8.50" stroke="#303030" stroke-width="2.30" fill="none"/>
<text transform="translate(134.75,1086.60) scale(0.975,1)" text-anchor="middle" font-size="34.80" fill="#1c1c1c" >0</text>
<text transform="translate(337.12,1086.60) scale(0.975,1)" text-anchor="middle" font-size="34.80" fill="#1c1c1c" >500</text>
<text transform="translate(542.50,1086.60) scale(0.975,1)" text-anchor="middle" font-size="34.80" fill="#1c1c1c" >1000</text>
<text transform="translate(745.77,1086.60) scale(0.975,1)" text-anchor="middle" font-size="34.80" fill="#1c1c1c" >1500</text>
<text transform="translate(950.50,1086.60) scale(0.975,1)" text-anchor="middle" font-size="34.80" fill="#1c1c1c" >2000</text>
<text transform="translate(117.50,997.16) scale(0.975,1)" text-anchor="end" font-size="34.80" fill="#1c1c1c" >40</text>
<text transform="translate(117.50,887.37) scale(0.975,1)" text-anchor="end" font-size="34.80" fill="#1c1c1c" >60</text>
<text transform="translate(117.50,777.59) scale(0.975,1)" text-anchor="end" font-size="34.80" fill="#1c1c1c" >80</text>
<text transform="translate(117.50,667.80) scale(0.975,1)" text-anchor="end" font-size="34.80" fill="#1c1c1c" >100</text>
<text transform="translate(542.90,1134.00) scale(1.045,1)" text-anchor="middle" font-size="33.80" fill="#1c1c1c" >Range/m</text>
<text transform="translate(42.60,848.00) rotate(-90) scale(1,1.130)" text-anchor="middle" font-size="33.50" fill="#1c1c1c" >SPL/dB</text>
<clipPath id="cc"><rect x="133.25" y="654.50" width="823.90" height="384.75"/></clipPath>
<g clip-path="url(#cc)" fill="none" stroke-linejoin="round" stroke-linecap="round">
<g transform="scale(1.0750,1)">
<path d="M127.0,722.0C127.4,726.3 127.9,730.0 128.4,730.0C129.0,730.0 129.6,727.3 130.2,725.0C130.9,722.7 131.5,716.0 132.1,714.0C132.9,711.5 133.6,709.0 134.4,709.0C135.2,709.0 136.0,711.4 136.7,714.0C137.4,716.1 138.0,720.8 138.6,728.0C139.1,733.4 139.5,749.7 140.0,760.0C140.5,770.3 140.9,790.0 141.4,790.0C141.9,790.0 142.3,767.2 142.8,760.0C143.4,750.4 144.0,741.7 144.7,738.0C145.6,732.5 146.5,727.5 147.4,727.5C148.2,727.5 149.0,731.8 149.8,736.0C150.4,739.4 151.0,748.0 151.6,755.0C152.4,763.8 153.2,779.0 154.0,785.0C154.7,791.0 155.5,795.5 156.3,798.0C157.4,801.5 158.4,805.0 159.5,805.0C160.3,805.0 161.1,800.5 161.9,797.0C162.6,793.5 163.4,786.2 164.2,782.0C165.0,777.8 165.7,774.3 166.5,771.0C167.3,767.7 168.1,765.0 168.8,762.0C169.6,759.0 170.4,754.8 171.2,753.0C171.9,751.2 172.7,749.0 173.5,749.0C174.3,749.0 175.0,751.9 175.8,755.0C176.4,757.5 177.1,764.7 177.7,770.0C178.3,775.3 178.9,787.0 179.5,787.0C180.2,787.0 180.8,779.6 181.4,777.0C182.0,774.4 182.6,771.2 183.3,770.5C184.0,769.6 184.8,769.0 185.6,769.0C186.2,769.0 186.8,772.1 187.4,775.0C188.1,777.9 188.7,784.3 189.3,790.0C189.9,795.7 190.5,805.3 191.2,810.0C191.9,815.9 192.7,823.5 193.5,823.5C194.3,823.5 195.0,817.8 195.8,815.0C196.4,812.8 197.1,809.7 197.7,808.5C198.4,807.0 199.2,805.5 200.0,805.5C200.9,805.5 201.9,806.4 202.8,807.0C203.7,807.6 204.7,808.1 205.6,809.0C206.4,809.8 207.1,810.7 207.9,812.5C208.5,814.0 209.1,817.0 209.8,822.0C210.2,825.7 210.7,834.2 211.2,845.0C211.6,855.8 212.1,872.9 212.6,900.0C212.9,918.1 213.2,993.0 213.5,993.0C213.8,993.0 214.1,918.1 214.4,900.0C214.9,872.9 215.3,852.9 215.8,845.0C216.3,837.1 216.7,831.5 217.2,830.0C217.8,827.9 218.4,826.5 219.1,826.5C219.8,826.5 220.6,829.0 221.4,830.0C222.0,830.8 222.6,832.0 223.3,832.0C224.0,832.0 224.8,827.5 225.6,826.0C226.5,824.1 227.4,821.5 228.4,821.5C229.0,821.5 229.6,823.7 230.2,826.0C230.9,828.3 231.5,835.9 232.1,840.0C232.9,845.1 233.6,853.5 234.4,853.5C235.0,853.5 235.7,845.6 236.3,840.0C236.9,834.4 237.5,824.2 238.1,818.0C238.8,811.8 239.4,805.1 240.0,802.0C240.9,797.3 241.9,792.5 242.8,792.5C243.7,792.5 244.7,794.0 245.6,795.0C246.5,796.0 247.4,798.1 248.4,799.0C249.3,799.9 250.2,800.3 251.2,801.0C252.1,801.7 253.0,802.0 254.0,803.0C254.7,803.8 255.5,806.0 256.3,807.0C257.1,808.0 257.8,809.5 258.6,809.5C259.5,809.5 260.5,806.1 261.4,804.0C262.3,801.9 263.3,799.4 264.2,797.0C265.4,793.9 266.7,790.6 267.9,787.5C269.1,784.4 270.4,781.0 271.6,778.5C272.7,776.3 273.8,774.1 274.9,773.0C275.8,772.1 276.7,771.0 277.7,771.0C278.8,771.0 279.8,773.0 280.9,774.5C282.2,776.2 283.4,779.0 284.7,782.0C285.9,785.0 287.1,789.0 288.4,793.0C289.6,797.0 290.9,801.4 292.1,806.0C292.9,808.9 293.6,813.2 294.4,815.0C295.2,816.8 296.0,819.0 296.7,819.0C297.7,819.0 298.6,815.7 299.5,814.0C300.5,812.3 301.4,809.3 302.3,808.5C303.3,807.7 304.2,807.0 305.1,807.0C306.0,807.0 307.0,808.7 307.9,810.0C308.8,811.3 309.8,813.5 310.7,816.0C311.6,818.5 312.6,822.4 313.5,826.0C314.4,829.6 315.3,833.6 316.3,838.0C317.2,842.4 318.1,847.2 319.1,853.0C319.8,857.8 320.6,862.3 321.4,870.0C322.0,876.2 322.6,889.1 323.3,898.0C323.9,906.9 324.5,923.5 325.1,923.5C325.7,923.5 326.4,906.2 327.0,898.0C327.6,889.8 328.2,880.8 328.8,874.0C329.6,865.5 330.4,857.1 331.2,852.0C332.1,845.8 333.0,841.8 334.0,838.0C335.0,833.6 336.1,830.1 337.2,827.0C338.6,823.1 340.0,819.9 341.4,817.0C342.8,814.1 344.2,811.2 345.6,809.5C347.0,807.8 348.4,805.5 349.8,805.5C351.2,805.5 352.6,806.8 354.0,808.0C355.3,809.2 356.7,812.4 358.1,815.0C359.5,817.6 360.9,820.6 362.3,824.0C363.4,826.6 364.5,830.9 365.6,833.0C366.7,835.1 367.8,838.0 368.8,838.0C369.9,838.0 371.0,835.9 372.1,834.5C373.3,832.9 374.6,830.0 375.8,828.0C376.9,826.2 378.0,824.1 379.1,823.0C380.0,822.1 380.9,821.0 381.9,821.0C382.9,821.0 384.0,822.2 385.1,823.5C386.0,824.6 387.0,827.9 387.9,831.0C388.8,834.1 389.8,838.3 390.7,843.0C391.6,847.7 392.6,853.7 393.5,860.0C394.4,866.3 395.3,872.9 396.3,881.0C397.1,887.8 397.8,895.9 398.6,905.0C399.2,912.3 399.8,920.8 400.5,930.0C400.9,936.9 401.4,953.0 401.9,953.0C402.3,953.0 402.8,940.3 403.3,935.0C403.9,927.9 404.5,919.4 405.1,916.0C405.9,911.8 406.7,908.6 407.4,907.5C408.4,906.1 409.3,905.0 410.2,905.0C411.5,905.0 412.7,907.0 414.0,907.0C415.0,907.0 416.1,907.0 417.2,907.0C418.3,907.0 419.4,904.4 420.5,902.0C421.6,899.6 422.6,894.2 423.7,890.0C424.8,885.8 425.9,880.9 427.0,877.0C428.2,872.6 429.5,868.4 430.7,865.0C431.9,861.6 433.2,858.4 434.4,856.0C435.8,853.3 437.2,851.2 438.6,849.5C440.0,847.8 441.4,846.5 442.8,845.5C444.0,844.7 445.3,843.9 446.5,843.5C447.8,843.1 449.0,842.5 450.2,842.5C451.3,842.5 452.4,843.9 453.5,845.0C454.6,846.1 455.7,848.3 456.7,850.0C457.7,851.5 458.6,853.6 459.5,854.5C460.5,855.4 461.4,856.5 462.3,856.5C463.3,856.5 464.2,854.9 465.1,853.5C466.0,852.1 467.0,849.2 467.9,847.0C469.0,844.5 470.1,841.7 471.2,839.5C472.2,837.3 473.3,834.6 474.4,833.5C475.7,832.3 476.9,831.0 478.1,831.0C479.4,831.0 480.6,833.0 481.9,834.5C483.1,836.0 484.3,838.8 485.6,841.0C486.8,843.2 488.1,846.1 489.3,848.0C490.5,849.9 491.8,851.9 493.0,853.0C494.3,854.1 495.5,855.5 496.7,855.5C498.0,855.5 499.2,855.3 500.5,855.0C501.7,854.7 502.9,852.9 504.2,851.5C505.4,850.1 506.7,848.4 507.9,846.5C509.1,844.6 510.4,842.1 511.6,840.0C513.0,837.6 514.4,835.3 515.8,833.0C517.5,830.2 519.2,827.3 520.9,825.0C522.8,822.5 524.7,820.2 526.5,818.5C528.4,816.8 530.2,815.0 532.1,814.5C534.0,814.0 535.8,813.5 537.7,813.5C539.4,813.5 541.1,814.5 542.8,815.5C544.3,816.4 545.9,818.1 547.4,820.0C548.7,821.5 549.9,823.6 551.2,826.0C552.2,828.1 553.3,831.0 554.4,834.0C555.3,836.6 556.3,840.0 557.2,843.0C558.1,846.0 559.1,849.3 560.0,852.0C560.9,854.7 561.9,857.8 562.8,859.5C563.7,861.2 564.7,863.5 565.6,863.5C566.5,863.5 567.4,862.8 568.4,862.0C569.3,861.2 570.2,858.6 571.2,857.5C572.1,856.4 573.0,855.3 574.0,855.0C574.9,854.7 575.8,854.5 576.7,854.5C577.7,854.5 578.6,855.5 579.5,856.5C580.5,857.5 581.4,859.6 582.3,862.0C583.3,864.4 584.2,868.1 585.1,872.0C586.0,875.9 587.0,881.2 587.9,886.0C588.8,890.8 589.8,896.6 590.7,901.0C591.5,904.7 592.2,911.0 593.0,911.0C593.8,911.0 594.6,905.7 595.3,902.0C596.1,898.3 596.9,892.3 597.7,888.0C598.4,883.7 599.2,879.3 600.0,876.0C600.9,872.0 601.9,868.2 602.8,866.0C603.7,863.8 604.7,861.3 605.6,861.0C606.5,860.7 607.4,860.5 608.4,860.5C609.3,860.5 610.2,861.8 611.2,863.0C612.1,864.2 613.0,866.8 614.0,869.0C615.0,871.6 616.1,875.1 617.2,878.0C618.3,880.9 619.4,884.7 620.5,886.5C621.6,888.3 622.6,890.5 623.7,890.5C624.7,890.5 625.6,887.2 626.5,885.0C627.6,882.4 628.7,878.2 629.8,875.0C631.0,871.3 632.2,867.6 633.5,864.5C634.7,861.4 636.0,858.6 637.2,856.0C638.4,853.4 639.7,850.9 640.9,849.0C642.2,847.1 643.4,845.1 644.7,844.0C645.9,842.9 647.1,841.5 648.4,841.5C649.6,841.5 650.9,841.7 652.1,842.0C653.3,842.3 654.6,843.5 655.8,844.5C657.1,845.5 658.3,846.8 659.5,848.0C660.8,849.2 662.0,850.7 663.3,852.0C664.5,853.3 665.7,854.9 667.0,856.0C668.2,857.1 669.5,858.5 670.7,859.0C672.1,859.5 673.5,860.0 674.9,860.0C676.3,860.0 677.7,859.5 679.1,859.0C680.6,858.5 682.2,857.2 683.7,856.0C685.3,854.8 686.8,853.1 688.4,851.5C689.9,849.9 691.5,847.6 693.0,846.0C694.6,844.4 696.1,842.8 697.7,841.5C699.2,840.2 700.8,838.5 702.3,838.0C703.9,837.5 705.4,837.0 707.0,837.0C708.5,837.0 710.1,837.6 711.6,838.0C713.2,838.4 714.7,839.5 716.3,840.0C718.1,840.6 720.0,841.1 721.9,841.5C723.7,841.9 725.6,842.1 727.4,842.5C729.0,842.8 730.5,843.0 732.1,843.5C733.3,843.9 734.6,845.0 735.8,846.0C737.1,847.0 738.3,848.5 739.5,850.0C740.8,851.5 742.0,853.4 743.3,855.5C744.3,857.3 745.4,859.5 746.5,862.0C747.6,864.5 748.7,867.5 749.8,871.0C750.7,874.0 751.6,878.0 752.6,882.0C753.5,886.0 754.4,889.9 755.3,895.0C756.1,899.2 756.9,903.7 757.7,910.0C758.3,915.0 758.9,921.0 759.5,930.0C760.0,936.8 760.5,943.4 760.9,960.0C761.2,971.0 761.6,1038.0 761.9,1038.0C762.2,1038.0 762.5,971.0 762.8,960.0C763.3,943.4 763.7,937.2 764.2,930.0C764.8,920.4 765.4,913.2 766.0,908.0C766.8,901.5 767.6,896.6 768.4,893.0C769.3,888.7 770.2,885.2 771.2,883.0C772.2,880.5 773.3,878.4 774.4,877.5C775.7,876.5 776.9,875.7 778.1,875.5C779.5,875.2 780.9,875.2 782.3,875.0C783.6,874.8 784.8,874.5 786.0,874.0C787.3,873.5 788.5,871.2 789.8,869.5C791.0,867.8 792.2,865.6 793.5,863.5C794.7,861.4 796.0,858.9 797.2,857.0C798.4,855.1 799.7,853.0 800.9,852.0C802.3,850.8 803.7,849.5 805.1,849.5C806.5,849.5 807.9,849.5 809.3,849.5C810.7,849.5 812.1,849.5 813.5,849.5C814.9,849.5 816.3,848.7 817.7,848.0C819.1,847.3 820.5,845.5 821.9,844.0C823.3,842.5 824.7,840.3 826.0,838.5C827.4,836.7 828.8,834.4 830.2,833.0C831.6,831.6 833.0,830.3 834.4,829.5C835.7,828.8 836.9,828.0 838.1,828.0C839.4,828.0 840.6,828.0 841.9,828.0C843.1,828.0 844.3,829.1 845.6,830.0C846.8,830.9 848.1,832.6 849.3,834.5C850.5,836.4 851.8,839.1 853.0,842.0C854.3,844.9 855.5,848.4 856.7,852.0C858.0,855.6 859.2,859.8 860.5,864.0C861.7,868.2 862.9,872.8 864.2,877.0C865.4,881.2 866.7,885.5 867.9,889.0C869.1,892.5 870.4,895.9 871.6,898.5C872.6,900.4 873.5,902.6 874.4,903.5C875.2,904.2 876.0,905.0 876.7,905.0C877.7,905.0 878.6,903.3 879.5,902.0C880.5,900.7 881.4,898.3 882.3,896.0C883.3,893.7 884.2,890.9 885.1,888.0C885.9,885.6 886.7,882.6 887.4,880.0C888.1,877.9 888.7,875.9 889.3,874.0" stroke="#0000ff" stroke-width="5.80"/>
<path d="M127.0,716.0C127.6,717.8 128.2,719.0 128.8,719.0C129.5,719.0 130.1,717.9 130.7,717.0C131.3,716.1 131.9,713.9 132.6,713.0C133.2,712.1 133.8,711.0 134.4,711.0C135.2,711.0 136.0,712.2 136.7,714.0C137.4,715.4 138.0,720.8 138.6,728.0C139.1,733.4 139.5,749.7 140.0,760.0C140.5,770.3 140.9,790.0 141.4,790.0C141.9,790.0 142.3,767.2 142.8,760.0C143.4,750.4 144.0,741.7 144.7,738.0C145.6,732.5 146.5,727.5 147.4,727.5C148.2,727.5 149.0,731.8 149.8,736.0" stroke="#ff0000" stroke-width="5.80" stroke-dasharray="17.40 16.28" stroke-dashoffset="0.00" stroke-linecap="butt"/>
<path d="M149.8,736.0C150.4,739.4 151.0,748.0 151.6,755.0C152.4,763.8 153.2,779.0 154.0,785.0C154.7,791.0 155.5,795.5 156.3,798.0C157.4,801.5 158.4,805.0 159.5,805.0C160.3,805.0 161.1,800.5 161.9,797.0C162.6,793.5 163.4,786.2 164.2,782.0C165.0,777.8 165.7,774.3 166.5,771.0C167.3,767.7 168.1,765.0 168.8,762.0C169.6,759.0 170.4,754.8 171.2,753.0C171.9,751.2 172.7,749.0 173.5,749.0C174.3,749.0 175.0,751.9 175.8,755.0C176.4,757.5 177.1,764.7 177.7,770.0C178.3,775.3 178.9,787.0 179.5,787.0C180.2,787.0 180.8,779.6 181.4,777.0C182.0,774.4 182.6,771.2 183.3,770.5" stroke="#ff0000" stroke-width="5.80" stroke-dasharray="17.40 16.28" stroke-dashoffset="5.02" stroke-linecap="butt"/>
<path d="M183.3,770.5C184.0,769.6 184.8,769.0 185.6,769.0C186.2,769.0 186.8,772.1 187.4,775.0C188.1,777.9 188.7,784.3 189.3,790.0C189.9,795.7 190.5,805.3 191.2,810.0C191.9,815.9 192.7,823.5 193.5,823.5C194.3,823.5 195.0,817.8 195.8,815.0C196.4,812.8 197.1,809.7 197.7,808.5C198.4,807.0 199.2,805.5 200.0,805.5C200.9,805.5 201.9,806.4 202.8,807.0C203.7,807.6 204.7,808.1 205.6,809.0C206.4,809.8 207.1,810.7 207.9,812.5" stroke="#ff0000" stroke-width="5.80" stroke-dasharray="17.40 16.28" stroke-dashoffset="18.25" stroke-linecap="butt"/>
<path d="M207.9,812.5C208.5,814.0 209.1,817.0 209.8,822.0C210.2,825.7 210.7,834.2 211.2,845.0C211.6,855.8 212.1,872.9 212.6,900.0C212.9,918.1 213.2,993.0 213.5,993.0C213.8,993.0 214.1,918.1 214.4,900.0C214.9,872.9 215.3,852.9 215.8,845.0C216.3,837.1 216.7,831.5 217.2,830.0" stroke="#ff0000" stroke-width="5.80" stroke-dasharray="17.40 16.28" stroke-dashoffset="29.97" stroke-linecap="butt"/>
<path d="M217.2,830.0C217.8,827.9 218.4,826.5 219.1,826.5C219.8,826.5 220.6,829.0 221.4,830.0C222.0,830.8 222.6,832.0 223.3,832.0C224.0,832.0 224.8,827.5 225.6,826.0C226.5,824.1 227.4,821.5 228.4,821.5C229.0,821.5 229.6,823.7 230.2,826.0C230.9,828.3 231.5,835.9 232.1,840.0C232.9,845.1 233.6,853.5 234.4,853.5C235.0,853.5 235.7,845.6 236.3,840.0C236.9,834.4 237.5,824.2 238.1,818.0C238.8,811.8 239.4,805.1 240.0,802.0C240.9,797.3 241.9,792.5 242.8,792.5C243.7,792.5 244.7,794.0 245.6,795.0C246.5,796.0 247.4,798.1 248.4,799.0C249.3,799.9 250.2,800.3 251.2,801.0C252.1,801.7 253.0,802.0 254.0,803.0C254.7,803.8 255.5,806.0 256.3,807.0C257.1,808.0 257.8,809.5 258.6,809.5C259.5,809.5 260.5,806.1 261.4,804.0C262.3,801.9 263.3,799.4 264.2,797.0C265.4,793.9 266.7,790.6 267.9,787.5" stroke="#ff0000" stroke-width="5.80" stroke-dasharray="17.40 16.28" stroke-dashoffset="24.81" stroke-linecap="butt"/>
<path d="M267.9,787.5C269.1,784.4 270.4,781.0 271.6,778.5C272.7,776.3 273.8,774.1 274.9,773.0C275.8,772.1 276.7,771.0 277.7,771.0C278.8,771.0 279.8,773.0 280.9,774.5C282.2,776.2 283.4,779.0 284.7,782.0C285.9,785.0 287.1,789.0 288.4,793.0C289.6,797.0 290.9,801.4 292.1,806.0C292.9,808.9 293.6,813.2 294.4,815.0" stroke="#ff0000" stroke-width="5.80" stroke-dasharray="17.40 16.28" stroke-dashoffset="23.18" stroke-linecap="butt"/>
<path d="M294.4,815.0C295.2,816.8 296.0,819.0 296.7,819.0C297.7,819.0 298.6,815.7 299.5,814.0C300.5,812.3 301.4,809.3 302.3,808.5C303.3,807.7 304.2,807.0 305.1,807.0C306.0,807.0 307.0,808.7 307.9,810.0C308.8,811.3 309.8,813.5 310.7,816.0C311.6,818.5 312.6,822.4 313.5,826.0C314.4,829.6 315.3,833.6 316.3,838.0" stroke="#ff0000" stroke-width="5.80" stroke-dasharray="17.40 16.28" stroke-dashoffset="24.05" stroke-linecap="butt"/>
<path d="M316.3,838.0C317.2,842.4 318.1,847.2 319.1,853.0C319.8,857.8 320.6,862.3 321.4,870.0C322.0,876.2 322.6,889.7 323.3,898.0C323.9,906.3 324.5,920.5 325.1,920.5C325.7,920.5 326.4,905.7 327.0,898.0C327.6,890.3 328.2,880.8 328.8,874.0C329.6,865.5 330.4,857.1 331.2,852.0" stroke="#ff0000" stroke-width="5.80" stroke-dasharray="17.40 16.28" stroke-dashoffset="26.61" stroke-linecap="butt"/>
<path d="M331.2,852.0C332.1,845.8 333.0,841.8 334.0,838.0C335.0,833.6 336.1,830.1 337.2,827.0C338.6,823.1 340.0,819.9 341.4,817.0C342.8,814.1 344.2,811.2 345.6,809.5C347.0,807.8 348.4,805.5 349.8,805.5C351.2,805.5 352.6,806.8 354.0,808.0C355.3,809.2 356.7,812.4 358.1,815.0C359.5,817.6 360.9,820.6 362.3,824.0C363.4,826.6 364.5,830.9 365.6,833.0C366.7,835.1 367.8,838.0 368.8,838.0" stroke="#ff0000" stroke-width="5.80" stroke-dasharray="17.40 16.28" stroke-dashoffset="32.63" stroke-linecap="butt"/>
<path d="M368.8,838.0C369.9,838.0 371.0,835.9 372.1,834.5C373.3,832.9 374.6,830.0 375.8,828.0C376.9,826.2 378.0,824.1 379.1,823.0C380.0,822.1 380.9,821.0 381.9,821.0C382.9,821.0 384.0,822.2 385.1,823.5C386.0,824.6 387.0,827.9 387.9,831.0C388.8,834.1 389.8,838.3 390.7,843.0C391.6,847.7 392.6,853.7 393.5,860.0" stroke="#ff0000" stroke-width="5.80" stroke-dasharray="17.40 16.28" stroke-dashoffset="24.54" stroke-linecap="butt"/>
<path d="M393.5,860.0C394.4,866.3 395.3,872.9 396.3,881.0C397.1,887.8 397.8,895.9 398.6,905.0C399.2,912.3 399.8,920.8 400.5,930.0C400.9,936.9 401.4,953.0 401.9,953.0C402.3,953.0 402.8,940.3 403.3,935.0C403.9,927.9 404.5,919.4 405.1,916.0C405.9,911.8 406.7,908.6 407.4,907.5C408.4,906.1 409.3,905.0 410.2,905.0" stroke="#ff0000" stroke-width="5.80" stroke-dasharray="17.40 16.28" stroke-dashoffset="16.28" stroke-linecap="butt"/>
<path d="M410.2,905.0C411.5,905.0 412.7,907.0 414.0,907.0C415.0,907.0 416.1,907.0 417.2,907.0C418.3,907.0 419.4,904.4 420.5,902.0C421.6,899.6 422.6,894.2 423.7,890.0C424.8,885.8 425.9,880.9 427.0,877.0C428.2,872.6 429.5,868.4 430.7,865.0C431.9,861.6 433.2,858.4 434.4,856.0C435.8,853.3 437.2,851.2 438.6,849.5C440.0,847.8 441.4,846.5 442.8,845.5C444.0,844.7 445.3,843.9 446.5,843.5C447.8,843.1 449.0,842.5 450.2,842.5C451.3,842.5 452.4,843.9 453.5,845.0C454.6,846.1 455.7,848.3 456.7,850.0C457.7,851.5 458.6,853.6 459.5,854.5C460.5,855.4 461.4,856.5 462.3,856.5" stroke="#ff0000" stroke-width="5.80" stroke-dasharray="17.40 16.28" stroke-dashoffset="16.55" stroke-linecap="butt"/>
<path d="M462.3,856.5C463.3,856.5 464.2,854.9 465.1,853.5C466.0,852.1 467.0,849.2 467.9,847.0C469.0,844.5 470.1,841.7 471.2,839.5C472.2,837.3 473.3,834.6 474.4,833.5C475.7,832.3 476.9,831.0 478.1,831.0C479.4,831.0 480.6,833.0 481.9,834.5C483.1,836.0 484.3,838.8 485.6,841.0C486.8,843.2 488.1,846.1 489.3,848.0C490.5,849.9 491.8,851.9 493.0,853.0C494.3,854.1 495.5,855.5 496.7,855.5C498.0,855.5 499.2,855.3 500.5,855.0C501.7,854.7 502.9,852.9 504.2,851.5C505.4,850.1 506.7,848.4 507.9,846.5" stroke="#ff0000" stroke-width="5.80" stroke-dasharray="17.40 16.28" stroke-dashoffset="17.63" stroke-linecap="butt"/>
<path d="M507.9,846.5C509.1,844.6 510.4,842.1 511.6,840.0C513.0,837.6 514.4,835.3 515.8,833.0C517.5,830.2 519.2,827.3 520.9,825.0C522.8,822.5 524.7,820.2 526.5,818.5C528.4,816.8 530.2,815.0 532.1,814.5" stroke="#ff0000" stroke-width="5.80" stroke-dasharray="17.40 16.28" stroke-dashoffset="25.66" stroke-linecap="butt"/>
<path d="M532.1,814.5C534.0,814.0 535.8,813.5 537.7,813.5C539.4,813.5 541.1,814.5 542.8,815.5C544.3,816.4 545.9,818.1 547.4,820.0C548.7,821.5 549.9,823.6 551.2,826.0C552.2,828.1 553.3,831.0 554.4,834.0C555.3,836.6 556.3,840.0 557.2,843.0C558.1,846.0 559.1,849.3 560.0,852.0C560.9,854.7 561.9,857.8 562.8,859.5C563.7,861.2 564.7,863.5 565.6,863.5C566.5,863.5 567.4,862.8 568.4,862.0" stroke="#ff0000" stroke-width="5.80" stroke-dasharray="17.40 16.28" stroke-dashoffset="32.73" stroke-linecap="butt"/>
<path d="M568.4,862.0C569.3,861.2 570.2,858.6 571.2,857.5C572.1,856.4 573.0,855.3 574.0,855.0C574.9,854.7 575.8,854.5 576.7,854.5C577.7,854.5 578.6,855.5 579.5,856.5C580.5,857.5 581.4,859.6 582.3,862.0C583.3,864.4 584.2,868.1 585.1,872.0C586.0,875.9 587.0,881.2 587.9,886.0C588.8,890.8 589.8,896.6 590.7,901.0C591.5,904.7 592.2,911.0 593.0,911.0C593.8,911.0 594.6,905.7 595.3,902.0C596.1,898.3 596.9,892.3 597.7,888.0C598.4,883.7 599.2,879.3 600.0,876.0C600.9,872.0 601.9,868.2 602.8,866.0C603.7,863.8 604.7,861.3 605.6,861.0C606.5,860.7 607.4,860.5 608.4,860.5" stroke="#ff0000" stroke-width="5.80" stroke-dasharray="17.40 16.28" stroke-dashoffset="31.64" stroke-linecap="butt"/>
<path d="M608.4,860.5C609.3,860.5 610.2,861.8 611.2,863.0C612.1,864.2 613.0,866.8 614.0,869.0C615.0,871.6 616.1,875.1 617.2,878.0C618.3,880.9 619.4,884.7 620.5,886.5C621.6,888.3 622.6,890.5 623.7,890.5C624.7,890.5 625.6,887.2 626.5,885.0C627.6,882.4 628.7,878.2 629.8,875.0C631.0,871.3 632.2,867.6 633.5,864.5C634.7,861.4 636.0,858.6 637.2,856.0C638.4,853.4 639.7,850.9 640.9,849.0" stroke="#ff0000" stroke-width="5.80" stroke-dasharray="17.40 16.28" stroke-dashoffset="11.37" stroke-linecap="butt"/>
<path d="M640.9,849.0C642.2,847.1 643.4,845.1 644.7,844.0C645.9,842.9 647.1,841.5 648.4,841.5C649.6,841.5 650.9,841.7 652.1,842.0C653.3,842.3 654.6,843.5 655.8,844.5C657.1,845.5 658.3,846.8 659.5,848.0C660.8,849.2 662.0,850.7 663.3,852.0C664.5,853.3 665.7,854.9 667.0,856.0C668.2,857.1 669.5,858.5 670.7,859.0C672.1,859.5 673.5,860.0 674.9,860.0C676.3,860.0 677.7,859.5 679.1,859.0C680.6,858.5 682.2,857.2 683.7,856.0C685.3,854.8 686.8,853.1 688.4,851.5C689.9,849.9 691.5,847.6 693.0,846.0" stroke="#ff0000" stroke-width="5.80" stroke-dasharray="17.40 16.28" stroke-dashoffset="27.09" stroke-linecap="butt"/>
<path d="M693.0,846.0C694.6,844.4 696.1,842.8 697.7,841.5C699.2,840.2 700.8,838.5 702.3,838.0C703.9,837.5 705.4,837.0 707.0,837.0C708.5,837.0 710.1,837.6 711.6,838.0C713.2,838.4 714.7,839.5 716.3,840.0C718.1,840.6 720.0,841.1 721.9,841.5C723.7,841.9 725.6,842.1 727.4,842.5C729.0,842.8 730.5,843.0 732.1,843.5" stroke="#ff0000" stroke-width="5.80" stroke-dasharray="17.40 16.28" stroke-dashoffset="25.45" stroke-linecap="butt"/>
<path d="M732.1,843.5C733.3,843.9 734.6,845.0 735.8,846.0C737.1,847.0 738.3,848.5 739.5,850.0C740.8,851.5 742.0,853.4 743.3,855.5C744.3,857.3 745.4,859.5 746.5,862.0C747.6,864.5 748.7,867.5 749.8,871.0" stroke="#ff0000" stroke-width="5.80" stroke-dasharray="17.40 16.28" stroke-dashoffset="0.18" stroke-linecap="butt"/>
<path d="M749.8,871.0C750.7,874.0 751.6,878.0 752.6,882.0C753.5,886.0 754.4,889.9 755.3,895.0C756.1,899.2 756.9,903.7 757.7,910.0C758.3,915.0 758.9,921.0 759.5,930.0C760.0,936.8 760.5,945.1 760.9,960.0C761.2,969.9 761.6,1012.0 761.9,1012.0C762.2,1012.0 762.5,969.9 762.8,960.0C763.3,945.1 763.7,937.2 764.2,930.0C764.8,920.4 765.4,913.2 766.0,908.0C766.8,901.5 767.6,896.6 768.4,893.0" stroke="#ff0000" stroke-width="5.80" stroke-dasharray="17.40 16.28" stroke-dashoffset="1.43" stroke-linecap="butt"/>
<path d="M768.4,893.0C769.3,888.7 770.2,885.2 771.2,883.0C772.2,880.5 773.3,878.4 774.4,877.5C775.7,876.5 776.9,875.7 778.1,875.5C779.5,875.2 780.9,875.2 782.3,875.0C783.6,874.8 784.8,874.5 786.0,874.0C787.3,873.5 788.5,871.2 789.8,869.5C791.0,867.8 792.2,865.6 793.5,863.5C794.7,861.4 796.0,858.9 797.2,857.0C798.4,855.1 799.7,853.0 800.9,852.0C802.3,850.8 803.7,849.5 805.1,849.5C806.5,849.5 807.9,849.5 809.3,849.5C810.7,849.5 812.1,849.5 813.5,849.5" stroke="#ff0000" stroke-width="5.80" stroke-dasharray="17.40 16.28" stroke-dashoffset="21.75" stroke-linecap="butt"/>
<path d="M813.5,849.5C814.9,849.5 816.3,848.7 817.7,848.0C819.1,847.3 820.5,845.5 821.9,844.0C823.3,842.5 824.7,840.3 826.0,838.5C827.4,836.7 828.8,834.4 830.2,833.0C831.6,831.6 833.0,830.3 834.4,829.5C835.7,828.8 836.9,828.0 838.1,828.0C839.4,828.0 840.6,828.0 841.9,828.0" stroke="#ff0000" stroke-width="5.80" stroke-dasharray="17.40 16.28" stroke-dashoffset="24.37" stroke-linecap="butt"/>
<path d="M841.9,828.0C843.1,828.0 844.3,829.1 845.6,830.0C846.8,830.9 848.1,832.6 849.3,834.5C850.5,836.4 851.8,839.1 853.0,842.0C854.3,844.9 855.5,848.4 856.7,852.0C858.0,855.6 859.2,859.8 860.5,864.0C861.7,868.2 862.9,872.8 864.2,877.0C865.4,881.2 866.7,885.5 867.9,889.0C869.1,892.5 870.4,895.9 871.6,898.5C872.6,900.4 873.5,902.6 874.4,903.5C875.2,904.2 876.0,905.0 876.7,905.0C877.7,905.0 878.6,903.3 879.5,902.0C880.5,900.7 881.4,898.3 882.3,896.0C883.3,893.7 884.2,890.9 885.1,888.0C885.9,885.6 886.7,882.6 887.4,880.0C888.1,877.9 888.7,875.9 889.3,874.0" stroke="#ff0000" stroke-width="5.80" stroke-dasharray="17.40 16.28" stroke-dashoffset="24.06" stroke-linecap="butt"/>
</g>
</g>
<path d="M601.00,700.50H690.00" stroke="#0000ff" stroke-width="5.80" fill="none"/>
<path d="M779.20,700.50H870.40" stroke="#ff0000" stroke-width="5.80" stroke-dasharray="18.7 17.5" fill="none"/>
<text transform="translate(694.00,713.50) scale(1.070,1)" text-anchor="start" font-size="34.00" fill="#000" >ISM</text>
<text transform="translate(873.00,713.50) scale(1.070,1)" text-anchor="start" font-size="34.00" fill="#000" >WI</text>
</g>
<g filter="url(#bl)">
<rect x="1184.75" y="654.50" width="820.00" height="385.50" fill="none" stroke="#303030" stroke-width="2.70"/>
<path d="M1184.75,1040.00v-8.50M1184.75,654.50v8.50M1458.08,1040.00v-8.50M1458.08,654.50v8.50M1731.42,1040.00v-8.50M1731.42,654.50v8.50M2004.75,1040.00v-8.50M2004.75,654.50v8.50M1184.75,1001.45h8.50M2004.75,1001.45h-8.50M1184.75,924.35h8.50M2004.75,924.35h-8.50M1184.75,847.25h8.50M2004.75,847.25h-8.50M1184.75,770.15h8.50M2004.75,770.15h-8.50M1184.75,693.05h8.50M2004.75,693.05h-8.50" stroke="#303030" stroke-width="2.30" fill="none"/>
<text transform="translate(1183.25,1086.60) scale(0.975,1)" text-anchor="middle" font-size="34.80" fill="#1c1c1c" >0</text>
<text transform="translate(1454.83,1086.60) scale(0.975,1)" text-anchor="middle" font-size="34.80" fill="#1c1c1c" >500</text>
<text transform="translate(1727.92,1086.60) scale(0.975,1)" text-anchor="middle" font-size="34.80" fill="#1c1c1c" >1000</text>
<text transform="translate(1999.65,1086.60) scale(0.975,1)" text-anchor="middle" font-size="34.80" fill="#1c1c1c" >1500</text>
<text transform="translate(1166.50,1015.45) scale(0.975,1)" text-anchor="end" font-size="34.80" fill="#1c1c1c" >50</text>
<text transform="translate(1166.50,937.85) scale(0.975,1)" text-anchor="end" font-size="34.80" fill="#1c1c1c" >60</text>
<text transform="translate(1166.50,860.25) scale(0.975,1)" text-anchor="end" font-size="34.80" fill="#1c1c1c" >70</text>
<text transform="translate(1166.50,782.65) scale(0.975,1)" text-anchor="end" font-size="34.80" fill="#1c1c1c" >80</text>
<text transform="translate(1166.50,705.55) scale(0.975,1)" text-anchor="end" font-size="34.80" fill="#1c1c1c" >90</text>
<text transform="translate(1591.90,1134.50) scale(1.045,1)" text-anchor="middle" font-size="33.80" fill="#1c1c1c" >Range/m</text>
<text transform="translate(1112.20,847.50) rotate(-90) scale(1,1.130)" text-anchor="middle" font-size="33.50" fill="#1c1c1c" >SPL/dB</text>
<clipPath id="cd"><rect x="1181.75" y="654.50" width="824.40" height="386.00"/></clipPath>
<g clip-path="url(#cd)" fill="none" stroke-linejoin="round" stroke-linecap="round">
<g transform="scale(1.0750,1)">
<path d="M1102.3,712.0C1102.5,715.4 1102.8,719.0 1103.0,719.0C1103.4,719.0 1103.8,717.0 1104.2,715.0C1104.8,712.0 1105.4,698.9 1106.0,695.0C1107.0,689.1 1107.9,683.0 1108.8,683.0C1109.5,683.0 1110.1,692.1 1110.7,700.0C1111.2,705.9 1111.6,719.7 1112.1,728.0C1112.4,733.5 1112.7,743.0 1113.0,743.0C1113.4,743.0 1113.8,732.8 1114.2,728.0C1114.7,722.5 1115.2,715.4 1115.6,712.0C1116.1,708.8 1116.5,705.0 1116.9,705.0C1117.4,705.0 1117.9,712.1 1118.4,718.0C1118.9,724.3 1119.5,739.7 1120.0,748.0C1120.5,755.3 1120.9,767.0 1121.4,767.0C1121.9,767.0 1122.4,755.5 1123.0,750.0C1123.5,744.2 1124.1,736.3 1124.7,733.0C1125.2,729.7 1125.8,726.0 1126.3,726.0C1126.9,726.0 1127.4,727.6 1127.9,730.0C1128.4,732.1 1128.8,742.9 1129.3,760.0C1129.6,771.4 1129.9,815.7 1130.2,850.0C1130.5,877.4 1130.7,945.0 1131.0,945.0C1131.2,945.0 1131.5,876.4 1131.7,850.0C1132.1,810.4 1132.5,762.0 1132.8,750.0C1133.2,738.0 1133.6,730.8 1134.0,728.0C1134.4,725.0 1134.8,722.5 1135.2,722.5C1135.7,722.5 1136.2,727.8 1136.7,732.0C1137.2,735.7 1137.7,742.1 1138.1,748.0C1138.6,753.9 1139.1,761.0 1139.5,768.0C1140.0,775.0 1140.5,778.7 1140.9,790.0C1141.3,799.8 1141.7,824.2 1142.1,850.0C1142.5,873.9 1142.9,950.0 1143.3,950.0C1143.6,950.0 1144.0,871.2 1144.4,850.0C1144.8,827.1 1145.2,808.5 1145.6,800.0C1146.2,787.0 1146.8,780.5 1147.4,775.0C1148.2,768.2 1149.0,765.0 1149.8,760.0C1150.4,756.0 1151.0,749.8 1151.6,748.0C1152.2,746.2 1152.9,744.5 1153.5,744.5C1154.1,744.5 1154.7,748.4 1155.3,752.0C1156.0,755.6 1156.6,764.2 1157.2,772.0C1157.8,779.8 1158.4,785.6 1159.1,800.0C1159.6,811.5 1160.1,843.8 1160.6,870.0C1161.0,892.9 1161.4,948.0 1161.9,948.0C1162.3,948.0 1162.7,886.2 1163.2,870.0C1163.7,851.4 1164.2,839.0 1164.7,830.0C1165.3,818.7 1165.9,810.5 1166.5,805.0C1167.3,798.2 1168.1,793.8 1168.8,790.0C1169.6,786.2 1170.4,782.6 1171.2,781.0C1171.9,779.5 1172.6,778.0 1173.3,778.0C1173.8,778.0 1174.4,785.5 1174.9,790.0C1175.5,795.3 1176.1,808.0 1176.7,808.0C1177.4,808.0 1178.0,803.5 1178.6,800.0C1179.2,796.5 1179.8,789.1 1180.5,785.0C1181.2,779.8 1182.0,775.3 1182.8,772.0C1183.6,768.7 1184.3,764.9 1185.1,764.0C1185.6,763.5 1186.0,763.0 1186.5,763.0C1187.1,763.0 1187.8,766.2 1188.4,770.0C1188.9,773.4 1189.5,783.5 1190.0,795.0C1190.5,804.6 1191.0,819.5 1191.4,840.0C1191.8,853.6 1192.1,881.9 1192.4,900.0C1192.6,914.5 1192.9,940.0 1193.1,940.0C1193.4,940.0 1193.7,909.3 1194.0,900.0C1194.4,886.6 1194.8,873.5 1195.2,870.0C1195.7,865.4 1196.2,865.2 1196.7,862.0C1197.4,858.3 1198.0,852.7 1198.6,848.0C1199.4,842.1 1200.2,835.5 1200.9,830.0C1201.9,823.4 1202.8,816.8 1203.7,812.0C1204.7,807.2 1205.6,802.8 1206.5,800.0C1207.4,797.2 1208.4,794.6 1209.3,793.5C1209.9,792.8 1210.5,792.0 1211.2,792.0C1211.8,792.0 1212.4,794.4 1213.0,797.0C1213.6,799.6 1214.3,808.0 1214.9,815.0C1215.5,822.0 1216.1,832.6 1216.7,840.0C1217.4,847.4 1218.0,856.9 1218.6,860.0C1219.2,863.1 1219.8,866.0 1220.5,866.0C1221.1,866.0 1221.7,866.0 1222.3,866.0C1222.9,866.0 1223.6,872.6 1224.2,875.0C1224.7,876.8 1225.1,879.5 1225.6,879.5C1226.0,879.5 1226.5,874.3 1227.0,870.0C1227.4,865.7 1227.9,857.0 1228.4,850.0C1228.8,843.0 1229.3,834.5 1229.8,828.0C1230.4,819.4 1231.0,810.0 1231.6,805.0C1232.2,800.0 1232.9,795.6 1233.5,794.0C1234.1,792.4 1234.7,791.0 1235.3,791.0C1236.0,791.0 1236.6,793.0 1237.2,795.0C1237.8,797.0 1238.4,801.4 1239.1,806.0C1239.7,810.6 1240.3,819.4 1240.9,825.0C1241.6,831.4 1242.4,842.0 1243.1,842.0C1243.8,842.0 1244.4,835.4 1245.1,830.0C1245.7,825.1 1246.4,814.2 1247.0,808.0C1247.6,801.8 1248.2,795.6 1248.8,792.0C1249.5,788.4 1250.1,785.1 1250.7,784.0C1251.3,783.0 1251.8,782.0 1252.4,782.0C1253.1,782.0 1253.7,783.7 1254.4,785.0C1255.2,786.4 1256.0,788.8 1256.7,791.0C1257.5,793.2 1258.3,797.6 1259.1,798.5C1260.0,799.6 1260.9,799.5 1261.9,800.5C1262.6,801.3 1263.4,802.6 1264.2,805.0C1264.8,806.9 1265.4,812.4 1266.0,818.0C1266.7,823.6 1267.3,835.6 1267.9,842.0C1268.5,848.4 1269.1,854.2 1269.8,858.0C1270.4,861.8 1271.0,865.4 1271.6,867.0C1272.2,868.4 1272.7,870.0 1273.3,870.0C1273.8,870.0 1274.4,867.1 1274.9,865.0C1275.5,862.5 1276.1,857.9 1276.7,855.0C1277.4,852.1 1278.0,848.8 1278.6,847.5C1279.2,846.3 1279.7,845.0 1280.3,845.0C1280.8,845.0 1281.3,847.2 1281.9,849.0C1282.5,851.2 1283.1,855.7 1283.7,860.0C1284.3,864.3 1285.0,870.9 1285.6,876.0C1286.0,879.8 1286.5,885.0 1287.0,887.0C1287.4,889.0 1287.9,891.0 1288.4,891.0C1288.9,891.0 1289.5,887.1 1290.0,885.0C1290.7,882.5 1291.4,878.6 1292.1,877.0C1292.8,875.4 1293.5,873.5 1294.2,873.5C1294.9,873.5 1295.6,875.2 1296.3,877.0C1296.9,878.7 1297.5,883.5 1298.1,888.0C1298.8,892.5 1299.4,899.3 1300.0,905.0C1300.6,910.7 1301.2,918.4 1301.9,922.0C1302.5,925.6 1303.1,927.4 1303.7,930.0C1304.3,932.6 1305.0,933.7 1305.6,937.7C1306.0,940.7 1306.5,947.9 1307.0,956.5C1307.4,964.0 1307.8,977.9 1308.2,991.5C1308.5,1002.0 1308.8,1028.5 1309.1,1028.5C1309.4,1028.5 1309.7,1004.6 1310.0,991.5C1310.4,975.8 1310.8,953.4 1311.2,941.0C1311.6,925.6 1312.1,914.3 1312.6,905.0C1313.1,893.8 1313.7,884.0 1314.2,878.0C1314.9,871.3 1315.5,865.2 1316.1,863.0C1316.8,860.6 1317.5,858.5 1318.1,858.5C1318.9,858.5 1319.7,860.1 1320.5,861.0C1321.4,862.1 1322.3,864.5 1323.3,864.5C1324.2,864.5 1325.1,864.0 1326.0,863.5C1327.1,863.0 1328.2,861.8 1329.3,861.0C1330.2,860.3 1331.2,859.0 1332.1,859.0C1332.9,859.0 1333.6,859.0 1334.4,859.0C1335.0,859.0 1335.7,860.5 1336.3,862.0C1336.9,863.5 1337.5,867.9 1338.1,872.0C1338.8,876.1 1339.4,882.9 1340.0,888.0C1340.5,891.8 1340.9,897.2 1341.4,899.0C1341.9,900.8 1342.3,902.5 1342.8,902.5C1343.3,902.5 1343.7,898.8 1344.2,896.0C1344.8,892.3 1345.4,884.3 1346.0,880.0C1346.7,875.7 1347.3,870.2 1347.9,869.0C1348.7,867.6 1349.5,866.5 1350.2,866.5C1351.2,866.5 1352.1,866.5 1353.0,866.5C1353.8,866.5 1354.6,865.1 1355.3,864.0C1356.1,862.9 1356.9,861.3 1357.7,859.0C1358.4,856.7 1359.2,852.0 1360.0,848.0C1360.9,843.2 1361.9,837.0 1362.8,832.0C1363.7,827.0 1364.7,822.1 1365.6,818.0C1366.5,813.9 1367.4,809.9 1368.4,807.0C1369.1,804.6 1369.9,801.7 1370.7,801.0C1371.3,800.5 1371.9,800.0 1372.6,800.0C1373.2,800.0 1373.8,801.6 1374.4,803.0C1375.2,804.7 1376.0,808.5 1376.7,812.0C1377.5,815.5 1378.3,820.0 1379.1,825.0C1379.8,830.0 1380.6,836.3 1381.4,843.0C1382.2,849.7 1382.9,856.5 1383.7,866.0C1384.3,873.6 1385.0,880.6 1385.6,895.0C1386.0,905.8 1386.5,934.5 1387.0,954.0C1387.2,964.4 1387.5,985.0 1387.7,985.0C1388.0,985.0 1388.3,964.0 1388.7,954.0C1389.2,937.0 1389.7,915.5 1390.2,905.0C1390.9,892.6 1391.5,884.3 1392.1,878.0C1392.9,870.1 1393.6,864.0 1394.4,860.0C1395.3,855.2 1396.3,851.1 1397.2,849.5C1398.1,847.9 1399.1,846.5 1400.0,846.5C1400.8,846.5 1401.6,849.4 1402.3,852.0C1403.1,854.6 1403.9,859.5 1404.7,865.0C1405.4,870.5 1406.2,880.6 1407.0,888.0C1407.6,893.9 1408.2,901.2 1408.8,905.0C1409.1,906.9 1409.5,909.5 1409.8,909.5C1410.2,909.5 1410.6,906.1 1411.0,903.0C1411.5,898.9 1412.0,885.5 1412.6,880.0C1413.2,873.5 1413.8,867.2 1414.4,865.0C1415.3,861.7 1416.3,859.0 1417.2,859.0C1418.0,859.0 1418.8,861.5 1419.5,864.0C1420.3,866.5 1421.1,874.1 1421.9,880.0C1422.6,885.9 1423.4,894.6 1424.2,900.0C1424.8,904.3 1425.4,909.3 1426.0,911.0C1426.5,912.2 1427.0,913.5 1427.4,913.5C1427.9,913.5 1428.4,909.2 1428.8,905.0C1429.3,900.8 1429.8,887.9 1430.2,880.0C1430.9,869.4 1431.5,857.0 1432.1,850.0C1432.9,841.2 1433.6,834.2 1434.4,830.0C1435.3,824.9 1436.3,820.8 1437.2,819.0C1438.3,816.9 1439.4,815.0 1440.5,815.0C1441.4,815.0 1442.3,817.2 1443.3,819.0C1444.2,820.8 1445.1,824.3 1446.0,828.0C1447.0,831.7 1447.9,837.0 1448.8,842.0C1449.8,847.0 1450.7,853.4 1451.6,858.0C1452.4,861.8 1453.2,866.1 1454.0,868.0C1454.7,869.9 1455.5,872.0 1456.3,872.0C1457.1,872.0 1457.8,868.4 1458.6,866.0C1459.5,863.1 1460.5,857.8 1461.4,855.0C1462.5,851.7 1463.6,848.5 1464.7,847.0C1465.7,845.5 1466.8,844.0 1467.9,844.0C1469.0,844.0 1470.1,845.7 1471.2,847.0C1472.2,848.3 1473.3,851.4 1474.4,853.0C1475.7,854.8 1476.9,856.8 1478.1,857.5C1479.5,858.3 1480.9,858.2 1482.3,859.0C1483.4,859.6 1484.5,861.5 1485.6,864.0C1486.5,866.2 1487.4,872.9 1488.4,877.0C1489.0,879.8 1489.6,883.5 1490.2,885.0C1490.7,886.2 1491.2,887.5 1491.6,887.5C1492.2,887.5 1492.9,884.2 1493.5,883.0C1494.3,881.5 1495.0,879.8 1495.8,879.5C1496.6,879.2 1497.4,879.0 1498.1,879.0C1498.9,879.0 1499.7,881.2 1500.5,881.5C1501.2,881.8 1502.0,882.0 1502.8,882.0C1503.4,882.0 1504.0,875.7 1504.7,872.0C1505.4,867.3 1506.2,861.2 1507.0,856.0C1507.9,849.8 1508.8,842.4 1509.8,838.0C1510.9,832.9 1511.9,828.5 1513.0,826.0C1514.1,823.5 1515.2,821.3 1516.3,820.5C1517.4,819.7 1518.4,819.0 1519.5,819.0C1520.6,819.0 1521.7,820.4 1522.8,821.5C1524.0,822.8 1525.3,825.5 1526.5,828.0C1527.8,830.5 1529.0,834.4 1530.2,836.5C1531.3,838.4 1532.4,841.0 1533.5,841.0C1534.6,841.0 1535.7,839.9 1536.7,839.0C1538.0,838.0 1539.2,835.2 1540.5,834.5C1541.7,833.8 1542.9,833.0 1544.2,833.0C1545.3,833.0 1546.4,834.4 1547.4,836.0C1548.4,837.4 1549.3,841.0 1550.2,845.0C1551.0,848.4 1551.8,853.8 1552.6,860.0C1553.3,866.2 1554.1,874.3 1554.9,885.0C1555.5,893.6 1556.1,906.8 1556.7,920.0C1557.2,929.9 1557.7,945.3 1558.1,954.0C1558.4,959.8 1558.8,968.5 1559.1,968.5C1559.4,968.5 1559.8,960.1 1560.2,954.0C1560.7,944.9 1561.3,925.0 1561.9,915.0C1562.5,903.9 1563.1,893.6 1563.7,888.0C1564.5,881.0 1565.3,875.9 1566.0,873.0C1566.8,870.1 1567.6,867.6 1568.4,867.0C1569.1,866.4 1569.9,866.0 1570.7,866.0C1571.5,866.0 1572.2,867.6 1573.0,869.0C1574.0,870.6 1574.9,873.7 1575.8,877.0C1576.7,880.3 1577.7,885.5 1578.6,890.0C1579.5,894.5 1580.5,900.0 1581.4,904.0C1582.3,908.0 1583.3,912.0 1584.2,914.5C1585.1,917.0 1586.0,920.0 1587.0,920.5C1587.4,920.8 1587.9,921.0 1588.4,921.0C1589.1,921.0 1589.9,918.1 1590.7,916.0C1591.6,913.4 1592.6,908.9 1593.5,905.0C1594.6,900.4 1595.7,895.0 1596.7,890.0C1597.8,885.0 1598.9,879.5 1600.0,875.0C1601.2,869.9 1602.5,864.4 1603.7,861.0C1604.8,858.0 1605.9,855.2 1607.0,854.0C1607.9,853.0 1608.8,852.0 1609.8,852.0C1610.7,852.0 1611.6,853.3 1612.6,854.5C1613.6,855.9 1614.7,859.6 1615.8,863.0C1617.1,866.9 1618.3,873.2 1619.5,878.0C1620.8,882.8 1622.0,887.9 1623.3,892.0C1624.5,896.1 1625.7,899.6 1627.0,903.0C1628.2,906.4 1629.5,909.3 1630.7,912.5C1631.9,915.7 1633.2,917.7 1634.4,922.0C1635.3,925.2 1636.3,931.6 1637.2,936.3C1637.8,939.5 1638.4,944.2 1639.1,945.8C1639.5,947.1 1640.0,948.4 1640.5,948.4C1640.9,948.4 1641.4,946.0 1641.9,943.9C1642.6,940.5 1643.4,931.6 1644.2,925.0C1645.1,917.1 1646.0,906.8 1647.0,900.0C1648.1,892.1 1649.1,885.1 1650.2,880.0C1651.5,874.2 1652.7,869.1 1654.0,866.0C1655.2,862.9 1656.4,860.0 1657.7,859.0C1658.9,858.0 1660.2,857.0 1661.4,857.0C1662.6,857.0 1663.9,858.2 1665.1,859.0C1666.7,860.0 1668.2,861.8 1669.8,862.5C1671.3,863.2 1672.9,864.0 1674.4,864.0C1676.0,864.0 1677.5,864.0 1679.1,864.0C1680.3,864.0 1681.6,864.7 1682.8,865.5C1683.7,866.1 1684.7,867.8 1685.6,870.0C1686.5,872.2 1687.4,876.8 1688.4,882.0C1689.1,886.3 1689.9,892.3 1690.7,900.0C1691.3,906.2 1691.9,913.5 1692.6,925.0C1693.1,935.3 1693.7,960.7 1694.2,974.0C1694.8,986.6 1695.3,1006.0 1695.8,1006.0C1696.3,1006.0 1696.7,985.9 1697.2,974.0C1697.8,958.2 1698.4,932.3 1699.1,920.0C1699.7,907.7 1700.3,897.7 1700.9,892.0C1701.7,884.9 1702.5,879.9 1703.3,877.0C1704.0,874.1 1704.8,871.6 1705.6,871.0C1706.3,870.4 1707.0,870.0 1707.7,870.0C1708.4,870.0 1709.1,872.0 1709.8,873.5C1710.7,875.6 1711.6,878.9 1712.6,883.0C1713.5,887.1 1714.4,892.2 1715.3,900.0C1716.1,906.5 1716.9,917.6 1717.7,930.0C1718.2,938.9 1718.8,956.4 1719.3,964.0C1719.8,970.3 1720.3,978.5 1720.7,978.5C1721.2,978.5 1721.7,970.6 1722.1,964.0C1722.8,954.4 1723.5,925.7 1724.2,915.0C1725.0,902.8 1725.7,892.8 1726.5,888.0C1727.4,882.3 1728.4,877.9 1729.3,876.5C1730.2,875.1 1731.2,874.0 1732.1,874.0C1733.0,874.0 1734.0,876.6 1734.9,879.0C1735.8,881.4 1736.7,887.0 1737.7,892.0C1738.6,897.0 1739.5,903.7 1740.5,910.0C1741.1,914.2 1741.7,920.5 1742.3,923.0C1742.8,924.9 1743.3,927.0 1743.7,927.0C1744.2,927.0 1744.7,924.3 1745.1,922.0C1745.9,918.1 1746.7,905.6 1747.4,900.0C1748.4,893.3 1749.3,888.0 1750.2,884.0C1751.3,879.4 1752.4,875.1 1753.5,873.0C1754.6,870.9 1755.7,868.8 1756.7,868.5C1757.7,868.2 1758.6,868.0 1759.5,868.0C1760.6,868.0 1761.7,869.1 1762.8,870.0C1764.0,871.0 1765.3,872.9 1766.5,875.0C1767.8,877.1 1769.0,880.0 1770.2,883.0C1771.5,886.0 1772.7,889.7 1774.0,893.5C1775.2,897.3 1776.4,901.6 1777.7,906.0C1778.9,910.4 1780.2,915.7 1781.4,920.0C1782.2,922.7 1782.9,926.3 1783.7,927.5C1784.3,928.5 1785.0,929.5 1785.6,929.5C1786.2,929.5 1786.8,927.0 1787.4,925.0C1788.4,922.0 1789.3,914.9 1790.2,910.0C1791.3,904.2 1792.4,897.4 1793.5,893.0C1794.7,888.0 1796.0,883.7 1797.2,881.0C1798.4,878.3 1799.7,875.9 1800.9,875.0C1802.3,874.0 1803.7,873.0 1805.1,873.0C1806.5,873.0 1807.9,873.5 1809.3,874.0C1810.5,874.5 1811.8,875.8 1813.0,877.5C1814.3,879.2 1815.5,882.8 1816.7,887.0C1817.8,890.7 1818.9,896.4 1820.0,903.0C1820.9,908.7 1821.9,915.4 1822.8,925.0C1823.6,933.0 1824.3,946.2 1825.1,959.0C1825.7,969.3 1826.4,983.4 1827.0,994.0C1827.6,1004.6 1828.2,1023.0 1828.8,1023.0C1829.5,1023.0 1830.1,1003.5 1830.7,994.0C1831.3,984.5 1831.9,973.5 1832.6,966.0C1833.3,956.6 1834.1,948.9 1834.9,942.7C1835.8,935.2 1836.7,926.9 1837.7,924.0C1838.8,920.6 1839.8,918.3 1840.9,917.5C1842.0,916.7 1843.1,916.0 1844.2,916.0C1845.3,916.0 1846.4,919.0 1847.4,919.0C1848.4,919.0 1849.3,919.0 1850.2,919.0C1851.0,919.0 1851.8,914.9 1852.6,912.0C1853.3,909.1 1854.1,904.3 1854.9,901.0C1855.8,897.0 1856.7,893.3 1857.7,890.0C1858.6,886.7 1859.5,883.4 1860.5,881.0C1861.2,879.0 1862.0,877.3 1862.8,876.0C1863.5,874.8 1864.2,873.7 1864.9,873.0" stroke="#0000ff" stroke-width="5.80"/>
<path d="M1102.3,700.0C1102.8,703.5 1103.3,706.0 1103.7,706.0C1104.3,706.0 1105.0,702.1 1105.6,700.0C1106.4,697.4 1107.1,693.0 1107.9,692.0C1108.5,691.2 1109.1,690.5 1109.8,690.5C1110.4,690.5 1111.0,696.4 1111.6,703.0C1112.1,708.0 1112.6,735.0 1113.0,735.0C1113.4,735.0 1113.8,731.1 1114.2,728.0C1114.7,724.4 1115.2,715.4 1115.6,712.0C1116.1,708.8 1116.5,705.0 1116.9,705.0C1117.4,705.0 1117.9,712.1 1118.4,718.0C1118.9,724.3 1119.5,739.7 1120.0,748.0C1120.5,755.3 1120.9,767.0 1121.4,767.0C1121.9,767.0 1122.4,755.5 1123.0,750.0C1123.5,744.2 1124.1,736.3 1124.7,733.0C1125.2,729.7 1125.8,726.0 1126.3,726.0" stroke="#ff0000" stroke-width="5.80" stroke-dasharray="17.40 16.28" stroke-dashoffset="0.00" stroke-linecap="butt"/>
<path d="M1126.3,726.0C1126.9,726.0 1127.4,727.6 1127.9,730.0C1128.4,732.1 1128.8,742.9 1129.3,760.0C1129.6,771.4 1129.9,809.7 1130.2,850.0C1130.5,882.2 1130.7,992.0 1131.0,992.0C1131.2,992.0 1131.5,881.0 1131.7,850.0C1132.1,803.5 1132.5,762.0 1132.8,750.0C1133.2,738.0 1133.6,730.8 1134.0,728.0C1134.4,725.0 1134.8,722.5 1135.2,722.5C1135.7,722.5 1136.2,727.8 1136.7,732.0C1137.2,735.7 1137.7,742.1 1138.1,748.0" stroke="#ff0000" stroke-width="5.80" stroke-dasharray="17.40 16.28" stroke-dashoffset="11.62" stroke-linecap="butt"/>
<path d="M1138.1,748.0C1138.6,753.9 1139.1,761.0 1139.5,768.0C1140.0,775.0 1140.5,778.7 1140.9,790.0C1141.3,799.8 1141.7,823.0 1142.1,850.0C1142.5,874.9 1142.9,963.0 1143.3,963.0C1143.6,963.0 1144.0,872.0 1144.4,850.0C1144.8,826.2 1145.2,806.6 1145.6,800.0C1146.2,789.8 1146.8,786.8 1147.4,782.0C1148.2,776.0 1149.0,772.0 1149.8,767.0C1150.4,763.0 1151.0,756.8 1151.6,755.0C1152.2,753.2 1152.9,751.5 1153.5,751.5C1154.1,751.5 1154.7,755.4 1155.3,759.0" stroke="#ff0000" stroke-width="5.80" stroke-dasharray="17.40 16.28" stroke-dashoffset="29.30" stroke-linecap="butt"/>
<path d="M1155.3,759.0C1156.0,762.6 1156.6,771.6 1157.2,779.0C1157.8,786.4 1158.4,791.0 1159.1,804.1C1159.6,814.5 1160.1,843.0 1160.6,870.0C1161.0,893.7 1161.4,961.0 1161.9,961.0C1162.3,961.0 1162.7,886.8 1163.2,870.0C1163.7,850.8 1164.2,838.8 1164.7,830.6C1165.3,820.3 1165.9,813.3 1166.5,808.5C1167.3,802.5 1168.1,798.6 1168.8,795.2C1169.6,791.9 1170.4,788.7 1171.2,787.3C1171.9,786.0 1172.6,784.6 1173.3,784.6C1173.8,784.6 1174.4,791.3 1174.9,795.2C1175.5,799.9 1176.1,811.1 1176.7,811.1C1177.4,811.1 1178.0,807.2 1178.6,804.1C1179.2,801.0 1179.8,794.5 1180.5,790.8C1181.2,786.2 1182.0,782.2 1182.8,779.0C1183.6,775.8 1184.3,771.9 1185.1,771.0C1185.6,770.5 1186.0,770.0 1186.5,770.0C1187.1,770.0 1187.8,773.3 1188.4,777.0" stroke="#ff0000" stroke-width="5.80" stroke-dasharray="17.40 16.28" stroke-dashoffset="8.55" stroke-linecap="butt"/>
<path d="M1188.4,777.0C1188.9,780.3 1189.5,789.3 1190.0,799.7C1190.5,808.3 1191.0,820.9 1191.4,840.0C1191.8,852.7 1192.1,881.9 1192.4,900.0C1192.6,914.5 1192.9,940.0 1193.1,940.0C1193.4,940.0 1193.7,909.3 1194.0,900.0C1194.4,886.6 1194.8,873.5 1195.2,870.0C1195.7,865.4 1196.2,865.2 1196.7,862.0C1197.4,858.3 1198.0,852.7 1198.6,848.0C1199.4,842.2 1200.2,835.6 1200.9,830.6C1201.9,824.5 1202.8,818.9 1203.7,814.7C1204.7,810.4 1205.6,806.6 1206.5,804.1C1207.4,801.6 1208.4,799.3 1209.3,798.3C1209.9,797.7 1210.5,797.0 1211.2,797.0C1211.8,797.0 1212.4,799.1 1213.0,801.4C1213.6,803.7 1214.3,811.1 1214.9,817.3C1215.5,823.6 1216.1,832.9 1216.7,840.0C1217.4,847.1 1218.0,856.9 1218.6,860.0C1219.2,863.1 1219.8,866.0 1220.5,866.0C1221.1,866.0 1221.7,866.0 1222.3,866.0C1222.9,866.0 1223.6,872.6 1224.2,875.0C1224.7,876.8 1225.1,879.5 1225.6,879.5C1226.0,879.5 1226.5,874.3 1227.0,870.0C1227.4,865.7 1227.9,857.0 1228.4,850.0C1228.8,843.0 1229.3,834.5 1229.8,828.0" stroke="#ff0000" stroke-width="5.80" stroke-dasharray="17.40 16.28" stroke-dashoffset="30.79" stroke-linecap="butt"/>
<path d="M1229.8,828.0C1230.4,819.4 1231.0,810.0 1231.6,805.0C1232.2,800.0 1232.9,795.6 1233.5,794.0C1234.1,792.4 1234.7,791.0 1235.3,791.0C1236.0,791.0 1236.6,793.0 1237.2,795.0C1237.8,797.0 1238.4,801.4 1239.1,806.0C1239.7,810.6 1240.3,819.4 1240.9,825.0C1241.6,831.4 1242.4,842.0 1243.1,842.0C1243.8,842.0 1244.4,835.4 1245.1,830.0C1245.7,825.1 1246.4,814.2 1247.0,808.0" stroke="#ff0000" stroke-width="5.80" stroke-dasharray="17.40 16.28" stroke-dashoffset="4.67" stroke-linecap="butt"/>
<path d="M1247.0,808.0C1247.6,801.8 1248.2,795.6 1248.8,792.0C1249.5,788.4 1250.1,785.1 1250.7,784.0C1251.3,783.0 1251.8,782.0 1252.4,782.0C1253.1,782.0 1253.7,783.7 1254.4,785.0C1255.2,786.4 1256.0,788.8 1256.7,791.0C1257.5,793.2 1258.3,797.6 1259.1,798.5C1260.0,799.6 1260.9,799.5 1261.9,800.5C1262.6,801.3 1263.4,802.6 1264.2,805.0C1264.8,806.9 1265.4,812.4 1266.0,818.0C1266.7,823.6 1267.3,835.6 1267.9,842.0C1268.5,848.4 1269.1,854.2 1269.8,858.0C1270.4,861.8 1271.0,865.4 1271.6,867.0C1272.2,868.4 1272.7,870.0 1273.3,870.0C1273.8,870.0 1274.4,867.1 1274.9,865.0" stroke="#ff0000" stroke-width="5.80" stroke-dasharray="17.40 16.28" stroke-dashoffset="16.11" stroke-linecap="butt"/>
<path d="M1274.9,865.0C1275.5,862.5 1276.1,857.9 1276.7,855.0C1277.4,852.1 1278.0,848.8 1278.6,847.5C1279.2,846.3 1279.7,845.0 1280.3,845.0C1280.8,845.0 1281.3,847.2 1281.9,849.0C1282.5,851.2 1283.1,855.7 1283.7,860.0C1284.3,864.3 1285.0,870.9 1285.6,876.0C1286.0,879.8 1286.5,885.0 1287.0,887.0C1287.4,889.0 1287.9,891.0 1288.4,891.0C1288.9,891.0 1289.5,887.1 1290.0,885.0C1290.7,882.5 1291.4,878.6 1292.1,877.0C1292.8,875.4 1293.5,873.5 1294.2,873.5C1294.9,873.5 1295.6,875.2 1296.3,877.0C1296.9,878.7 1297.5,883.5 1298.1,888.0C1298.8,892.5 1299.4,899.3 1300.0,905.0C1300.6,910.7 1301.2,918.4 1301.9,922.0" stroke="#ff0000" stroke-width="5.80" stroke-dasharray="17.40 16.28" stroke-dashoffset="21.67" stroke-linecap="butt"/>
<path d="M1301.9,922.0C1302.5,925.6 1303.1,927.4 1303.7,930.0C1304.3,932.6 1305.0,933.7 1305.6,937.7C1306.0,940.7 1306.5,947.9 1307.0,956.5C1307.4,964.0 1307.8,977.9 1308.2,991.5C1308.5,1002.0 1308.8,1028.5 1309.1,1028.5C1309.4,1028.5 1309.7,1004.6 1310.0,991.5C1310.4,975.8 1310.8,953.4 1311.2,941.0C1311.6,925.6 1312.1,914.3 1312.6,905.0C1313.1,893.8 1313.7,884.0 1314.2,878.0" stroke="#ff0000" stroke-width="5.80" stroke-dasharray="17.40 16.28" stroke-dashoffset="19.51" stroke-linecap="butt"/>
<path d="M1314.2,878.0C1314.9,871.3 1315.5,865.2 1316.1,863.0C1316.8,860.6 1317.5,858.5 1318.1,858.5C1318.9,858.5 1319.7,860.1 1320.5,861.0C1321.4,862.1 1322.3,864.5 1323.3,864.5C1324.2,864.5 1325.1,864.0 1326.0,863.5C1327.1,863.0 1328.2,861.8 1329.3,861.0C1330.2,860.3 1331.2,859.0 1332.1,859.0C1332.9,859.0 1333.6,859.0 1334.4,859.0C1335.0,859.0 1335.7,860.5 1336.3,862.0C1336.9,863.5 1337.5,867.9 1338.1,872.0C1338.8,876.1 1339.4,882.9 1340.0,888.0C1340.5,891.8 1340.9,897.2 1341.4,899.0C1341.9,900.8 1342.3,902.5 1342.8,902.5C1343.3,902.5 1343.7,898.8 1344.2,896.0C1344.8,892.3 1345.4,884.3 1346.0,880.0C1346.7,875.7 1347.3,870.2 1347.9,869.0C1348.7,867.6 1349.5,866.5 1350.2,866.5C1351.2,866.5 1352.1,866.5 1353.0,866.5C1353.8,866.5 1354.6,865.1 1355.3,864.0C1356.1,862.9 1356.9,861.3 1357.7,859.0" stroke="#ff0000" stroke-width="5.80" stroke-dasharray="17.40 16.28" stroke-dashoffset="2.76" stroke-linecap="butt"/>
<path d="M1357.7,859.0C1358.4,856.7 1359.2,852.0 1360.0,848.0C1360.9,843.2 1361.9,837.0 1362.8,832.0C1363.7,827.0 1364.7,822.1 1365.6,818.0C1366.5,813.9 1367.4,809.9 1368.4,807.0C1369.1,804.6 1369.9,801.7 1370.7,801.0C1371.3,800.5 1371.9,800.0 1372.6,800.0C1373.2,800.0 1373.8,801.6 1374.4,803.0C1375.2,804.7 1376.0,808.5 1376.7,812.0C1377.5,815.5 1378.3,820.0 1379.1,825.0C1379.8,830.0 1380.6,836.3 1381.4,843.0" stroke="#ff0000" stroke-width="5.80" stroke-dasharray="17.40 16.28" stroke-dashoffset="17.92" stroke-linecap="butt"/>
<path d="M1381.4,843.0C1382.2,849.7 1382.9,856.5 1383.7,866.0C1384.3,873.6 1385.0,880.6 1385.6,895.0C1386.0,905.8 1386.5,934.5 1387.0,954.0C1387.2,964.4 1387.5,985.0 1387.7,985.0C1388.0,985.0 1388.3,964.0 1388.7,954.0C1389.2,937.0 1389.7,915.5 1390.2,905.0C1390.9,892.6 1391.5,884.3 1392.1,878.0" stroke="#ff0000" stroke-width="5.80" stroke-dasharray="17.40 16.28" stroke-dashoffset="18.02" stroke-linecap="butt"/>
<path d="M1392.1,878.0C1392.9,870.1 1393.6,864.0 1394.4,860.0C1395.3,855.2 1396.3,851.1 1397.2,849.5C1398.1,847.9 1399.1,846.5 1400.0,846.5C1400.8,846.5 1401.6,849.4 1402.3,852.0C1403.1,854.6 1403.9,859.5 1404.7,865.0C1405.4,870.5 1406.2,880.6 1407.0,888.0C1407.6,893.9 1408.2,901.2 1408.8,905.0C1409.1,906.9 1409.5,909.5 1409.8,909.5C1410.2,909.5 1410.6,906.1 1411.0,903.0C1411.5,898.9 1412.0,885.5 1412.6,880.0C1413.2,873.5 1413.8,867.2 1414.4,865.0C1415.3,861.7 1416.3,859.0 1417.2,859.0C1418.0,859.0 1418.8,861.5 1419.5,864.0C1420.3,866.5 1421.1,874.1 1421.9,880.0C1422.6,885.9 1423.4,894.6 1424.2,900.0C1424.8,904.3 1425.4,909.3 1426.0,911.0C1426.5,912.2 1427.0,913.5 1427.4,913.5C1427.9,913.5 1428.4,909.2 1428.8,905.0C1429.3,900.8 1429.8,887.9 1430.2,880.0C1430.9,869.4 1431.5,857.0 1432.1,850.0" stroke="#ff0000" stroke-width="5.80" stroke-dasharray="17.40 16.28" stroke-dashoffset="25.93" stroke-linecap="butt"/>
<path d="M1432.1,850.0C1432.9,841.2 1433.6,834.2 1434.4,830.0C1435.3,824.9 1436.3,820.8 1437.2,819.0C1438.3,816.9 1439.4,815.0 1440.5,815.0C1441.4,815.0 1442.3,817.2 1443.3,819.0C1444.2,820.8 1445.1,824.3 1446.0,828.0C1447.0,831.7 1447.9,837.0 1448.8,842.0C1449.8,847.0 1450.7,853.4 1451.6,858.0C1452.4,861.8 1453.2,866.1 1454.0,868.0C1454.7,869.9 1455.5,872.0 1456.3,872.0C1457.1,872.0 1457.8,868.4 1458.6,866.0C1459.5,863.1 1460.5,857.8 1461.4,855.0C1462.5,851.7 1463.6,848.5 1464.7,847.0C1465.7,845.5 1466.8,844.0 1467.9,844.0C1469.0,844.0 1470.1,845.7 1471.2,847.0C1472.2,848.3 1473.3,851.4 1474.4,853.0" stroke="#ff0000" stroke-width="5.80" stroke-dasharray="17.40 16.28" stroke-dashoffset="10.86" stroke-linecap="butt"/>
<path d="M1474.4,853.0C1475.7,854.8 1476.9,856.8 1478.1,857.5C1479.5,858.3 1480.9,858.2 1482.3,859.0C1483.4,859.6 1484.5,861.5 1485.6,864.0C1486.5,866.2 1487.4,872.9 1488.4,877.0C1489.0,879.8 1489.6,883.5 1490.2,885.0C1490.7,886.2 1491.2,887.5 1491.6,887.5C1492.2,887.5 1492.9,884.2 1493.5,883.0C1494.3,881.5 1495.0,879.8 1495.8,879.5C1496.6,879.2 1497.4,879.0 1498.1,879.0C1498.9,879.0 1499.7,881.2 1500.5,881.5C1501.2,881.8 1502.0,882.0 1502.8,882.0C1503.4,882.0 1504.0,875.7 1504.7,872.0C1505.4,867.3 1506.2,861.2 1507.0,856.0C1507.9,849.8 1508.8,842.4 1509.8,838.0C1510.9,832.9 1511.9,828.5 1513.0,826.0C1514.1,823.5 1515.2,821.3 1516.3,820.5" stroke="#ff0000" stroke-width="5.80" stroke-dasharray="17.40 16.28" stroke-dashoffset="32.14" stroke-linecap="butt"/>
<path d="M1516.3,820.5C1517.4,819.7 1518.4,819.0 1519.5,819.0C1520.6,819.0 1521.7,820.4 1522.8,821.5C1524.0,822.8 1525.3,825.5 1526.5,828.0C1527.8,830.5 1529.0,834.4 1530.2,836.5C1531.3,838.4 1532.4,841.0 1533.5,841.0" stroke="#ff0000" stroke-width="5.80" stroke-dasharray="17.40 16.28" stroke-dashoffset="30.34" stroke-linecap="butt"/>
<path d="M1533.5,841.0C1534.6,841.0 1535.7,839.9 1536.7,839.0C1538.0,838.0 1539.2,835.2 1540.5,834.5C1541.7,833.8 1542.9,833.0 1544.2,833.0C1545.3,833.0 1546.4,834.4 1547.4,836.0C1548.4,837.4 1549.3,841.0 1550.2,845.0C1551.0,848.4 1551.8,853.8 1552.6,860.0" stroke="#ff0000" stroke-width="5.80" stroke-dasharray="17.40 16.28" stroke-dashoffset="30.59" stroke-linecap="butt"/>
<path d="M1552.6,860.0C1553.3,866.2 1554.1,874.3 1554.9,885.0C1555.5,893.6 1556.1,906.8 1556.7,920.0C1557.2,929.9 1557.7,945.3 1558.1,954.0C1558.4,959.8 1558.8,968.5 1559.1,968.5C1559.4,968.5 1559.8,960.1 1560.2,954.0C1560.7,944.9 1561.3,925.0 1561.9,915.0" stroke="#ff0000" stroke-width="5.80" stroke-dasharray="17.40 16.28" stroke-dashoffset="17.82" stroke-linecap="butt"/>
<path d="M1561.9,915.0C1562.5,903.9 1563.1,893.6 1563.7,888.0C1564.5,881.0 1565.3,875.9 1566.0,873.0C1566.8,870.1 1567.6,867.6 1568.4,867.0C1569.1,866.4 1569.9,866.0 1570.7,866.0C1571.5,866.0 1572.2,867.6 1573.0,869.0C1574.0,870.6 1574.9,873.7 1575.8,877.0C1576.7,880.3 1577.7,885.5 1578.6,890.0C1579.5,894.5 1580.5,900.0 1581.4,904.0C1582.3,908.0 1583.3,912.0 1584.2,914.5C1585.1,917.0 1586.0,920.0 1587.0,920.5C1587.4,920.8 1587.9,921.0 1588.4,921.0C1589.1,921.0 1589.9,918.1 1590.7,916.0C1591.6,913.4 1592.6,908.9 1593.5,905.0C1594.6,900.4 1595.7,895.0 1596.7,890.0C1597.8,885.0 1598.9,879.5 1600.0,875.0" stroke="#ff0000" stroke-width="5.80" stroke-dasharray="17.40 16.28" stroke-dashoffset="8.64" stroke-linecap="butt"/>
<path d="M1600.0,875.0C1601.2,869.9 1602.5,864.4 1603.7,861.0C1604.8,858.0 1605.9,855.2 1607.0,854.0C1607.9,853.0 1608.8,852.0 1609.8,852.0C1610.7,852.0 1611.6,853.3 1612.6,854.5C1613.6,855.9 1614.7,859.6 1615.8,863.0C1617.1,866.9 1618.3,873.2 1619.5,878.0C1620.8,882.8 1622.0,887.9 1623.3,892.0C1624.5,896.1 1625.7,899.6 1627.0,903.0C1628.2,906.4 1629.5,909.3 1630.7,912.5C1631.9,915.7 1633.2,917.7 1634.4,922.0C1635.3,925.2 1636.3,931.6 1637.2,936.3C1637.8,939.5 1638.4,944.2 1639.1,945.8C1639.5,947.1 1640.0,948.4 1640.5,948.4C1640.9,948.4 1641.4,946.0 1641.9,943.9C1642.6,940.5 1643.4,931.6 1644.2,925.0C1645.1,917.1 1646.0,906.8 1647.0,900.0" stroke="#ff0000" stroke-width="5.80" stroke-dasharray="17.40 16.28" stroke-dashoffset="13.82" stroke-linecap="butt"/>
<path d="M1647.0,900.0C1648.1,892.1 1649.1,885.1 1650.2,880.0C1651.5,874.2 1652.7,869.1 1654.0,866.0C1655.2,862.9 1656.4,860.0 1657.7,859.0C1658.9,858.0 1660.2,857.0 1661.4,857.0C1662.6,857.0 1663.9,858.2 1665.1,859.0C1666.7,860.0 1668.2,861.8 1669.8,862.5" stroke="#ff0000" stroke-width="5.80" stroke-dasharray="17.40 16.28" stroke-dashoffset="2.94" stroke-linecap="butt"/>
<path d="M1669.8,862.5C1671.3,863.2 1672.9,864.0 1674.4,864.0C1676.0,864.0 1677.5,864.0 1679.1,864.0C1680.3,864.0 1681.6,864.7 1682.8,865.5C1683.7,866.1 1684.7,867.8 1685.6,870.0C1686.5,872.2 1687.4,876.8 1688.4,882.0" stroke="#ff0000" stroke-width="5.80" stroke-dasharray="17.40 16.28" stroke-dashoffset="0.80" stroke-linecap="butt"/>
<path d="M1688.4,882.0C1689.1,886.3 1689.9,892.3 1690.7,900.0C1691.3,906.2 1691.9,913.5 1692.6,925.0C1693.1,935.3 1693.7,960.7 1694.2,974.0C1694.8,986.6 1695.3,1006.0 1695.8,1006.0C1696.3,1006.0 1696.7,985.9 1697.2,974.0C1697.8,958.2 1698.4,932.3 1699.1,920.0C1699.7,907.7 1700.3,897.7 1700.9,892.0" stroke="#ff0000" stroke-width="5.80" stroke-dasharray="17.40 16.28" stroke-dashoffset="2.23" stroke-linecap="butt"/>
<path d="M1700.9,892.0C1701.7,884.9 1702.5,879.9 1703.3,877.0C1704.0,874.1 1704.8,871.6 1705.6,871.0C1706.3,870.4 1707.0,870.0 1707.7,870.0C1708.4,870.0 1709.1,872.0 1709.8,873.5C1710.7,875.6 1711.6,878.9 1712.6,883.0C1713.5,887.1 1714.4,892.2 1715.3,900.0" stroke="#ff0000" stroke-width="5.80" stroke-dasharray="17.40 16.28" stroke-dashoffset="18.38" stroke-linecap="butt"/>
<path d="M1715.3,900.0C1716.1,906.5 1716.9,917.6 1717.7,930.0C1718.2,938.9 1718.8,956.4 1719.3,964.0C1719.8,970.3 1720.3,978.5 1720.7,978.5C1721.2,978.5 1721.7,970.6 1722.1,964.0C1722.8,954.4 1723.5,925.7 1724.2,915.0" stroke="#ff0000" stroke-width="5.80" stroke-dasharray="17.40 16.28" stroke-dashoffset="30.97" stroke-linecap="butt"/>
<path d="M1724.2,915.0C1725.0,902.8 1725.7,892.8 1726.5,888.0C1727.4,882.3 1728.4,877.9 1729.3,876.5C1730.2,875.1 1731.2,874.0 1732.1,874.0C1733.0,874.0 1734.0,876.6 1734.9,879.0C1735.8,881.4 1736.7,887.0 1737.7,892.0C1738.6,897.0 1739.5,903.7 1740.5,910.0C1741.1,914.2 1741.7,920.5 1742.3,923.0C1742.8,924.9 1743.3,927.0 1743.7,927.0C1744.2,927.0 1744.7,924.3 1745.1,922.0C1745.9,918.1 1746.7,905.6 1747.4,900.0C1748.4,893.3 1749.3,888.0 1750.2,884.0" stroke="#ff0000" stroke-width="5.80" stroke-dasharray="17.40 16.28" stroke-dashoffset="3.75" stroke-linecap="butt"/>
<path d="M1750.2,884.0C1751.3,879.4 1752.4,875.1 1753.5,873.0C1754.6,870.9 1755.7,868.8 1756.7,868.5C1757.7,868.2 1758.6,868.0 1759.5,868.0C1760.6,868.0 1761.7,869.1 1762.8,870.0C1764.0,871.0 1765.3,872.9 1766.5,875.0C1767.8,877.1 1769.0,880.0 1770.2,883.0C1771.5,886.0 1772.7,889.7 1774.0,893.5C1775.2,897.3 1776.4,901.6 1777.7,906.0C1778.9,910.4 1780.2,915.7 1781.4,920.0C1782.2,922.7 1782.9,926.3 1783.7,927.5C1784.3,928.5 1785.0,929.5 1785.6,929.5C1786.2,929.5 1786.8,927.0 1787.4,925.0C1788.4,922.0 1789.3,914.9 1790.2,910.0C1791.3,904.2 1792.4,897.4 1793.5,893.0" stroke="#ff0000" stroke-width="5.80" stroke-dasharray="17.40 16.28" stroke-dashoffset="20.42" stroke-linecap="butt"/>
<path d="M1793.5,893.0C1794.7,888.0 1796.0,883.7 1797.2,881.0C1798.4,878.3 1799.7,875.9 1800.9,875.0C1802.3,874.0 1803.7,873.0 1805.1,873.0C1806.5,873.0 1807.9,873.5 1809.3,874.0C1810.5,874.5 1811.8,875.8 1813.0,877.5C1814.3,879.2 1815.5,882.8 1816.7,887.0C1817.8,890.7 1818.9,896.4 1820.0,903.0" stroke="#ff0000" stroke-width="5.80" stroke-dasharray="17.40 16.28" stroke-dashoffset="14.82" stroke-linecap="butt"/>
<path d="M1820.0,903.0C1820.9,908.7 1821.9,915.4 1822.8,925.0C1823.6,933.0 1824.3,946.2 1825.1,959.0C1825.7,969.3 1826.4,983.4 1827.0,994.0C1827.6,1004.6 1828.2,1023.0 1828.8,1023.0C1829.5,1023.0 1830.1,1003.5 1830.7,994.0C1831.3,984.5 1831.9,973.5 1832.6,966.0C1833.3,956.6 1834.1,948.9 1834.9,942.7" stroke="#ff0000" stroke-width="5.80" stroke-dasharray="17.40 16.28" stroke-dashoffset="22.98" stroke-linecap="butt"/>
<path d="M1834.9,942.7C1835.8,935.2 1836.7,926.9 1837.7,924.0C1838.8,920.6 1839.8,918.3 1840.9,917.5C1842.0,916.7 1843.1,916.0 1844.2,916.0C1845.3,916.0 1846.4,919.0 1847.4,919.0C1848.4,919.0 1849.3,919.0 1850.2,919.0C1851.0,919.0 1851.8,914.9 1852.6,912.0" stroke="#ff0000" stroke-width="5.80" stroke-dasharray="17.40 16.28" stroke-dashoffset="14.35" stroke-linecap="butt"/>
<path d="M1852.6,912.0C1853.3,909.1 1854.1,904.3 1854.9,901.0C1855.8,897.0 1856.7,893.3 1857.7,890.0C1858.6,886.7 1859.5,883.4 1860.5,881.0C1861.2,879.0 1862.0,877.3 1862.8,876.0C1863.5,874.8 1864.2,873.7 1864.9,873.0" stroke="#ff0000" stroke-width="5.80" stroke-dasharray="17.40 16.28" stroke-dashoffset="9.10" stroke-linecap="butt"/>
</g>
</g>
<path d="M1650.00,699.50H1739.00" stroke="#0000ff" stroke-width="5.80" fill="none"/>
<path d="M1828.00,699.50H1919.20" stroke="#ff0000" stroke-width="5.80" stroke-dasharray="18.7 17.5" fill="none"/>
<text transform="translate(1743.00,713.00) scale(1.070,1)" text-anchor="start" font-size="34.00" fill="#000" >ISM</text>
<text transform="translate(1922.00,713.00) scale(1.070,1)" text-anchor="start" font-size="34.00" fill="#000" >WI</text>
</g>
<text class="cap" transform="translate(465.50,586.90) scale(0.820,1)" font-size="54.8" fill="#000">(</text><text class="cap" transform="translate(482.50,586.30) scale(0.950,1)" font-size="56.0" fill="#000" font-weight="bold">a</text><text class="cap" transform="translate(508.90,586.90) scale(0.820,1)" font-size="54.8" fill="#000">)</text>
<text class="cap" transform="translate(1510.20,586.90) scale(0.820,1)" font-size="54.8" fill="#000">(</text><text class="cap" transform="translate(1526.50,586.30) scale(1.020,1)" font-size="56.0" fill="#000" font-weight="bold">b</text><text class="cap" transform="translate(1559.90,586.90) scale(0.820,1)" font-size="54.8" fill="#000">)</text>
<text class="cap" transform="translate(467.20,1213.30) scale(0.820,1)" font-size="54.8" fill="#000">(</text><text class="cap" transform="translate(484.30,1212.70) scale(0.930,1)" font-size="56.0" fill="#000" font-weight="bold">c</text><text class="cap" transform="translate(507.60,1213.30) scale(0.820,1)" font-size="54.8" fill="#000">)</text>
<text class="cap" transform="translate(1510.20,1213.30) scale(0.820,1)" font-size="54.8" fill="#000">(</text><text class="cap" transform="translate(1527.60,1212.70) scale(1.000,1)" font-size="56.0" fill="#000" font-weight="bold">d</text><text class="cap" transform="translate(1559.90,1213.30) scale(0.820,1)" font-size="54.8" fill="#000">)</text>
</svg></body></html>
